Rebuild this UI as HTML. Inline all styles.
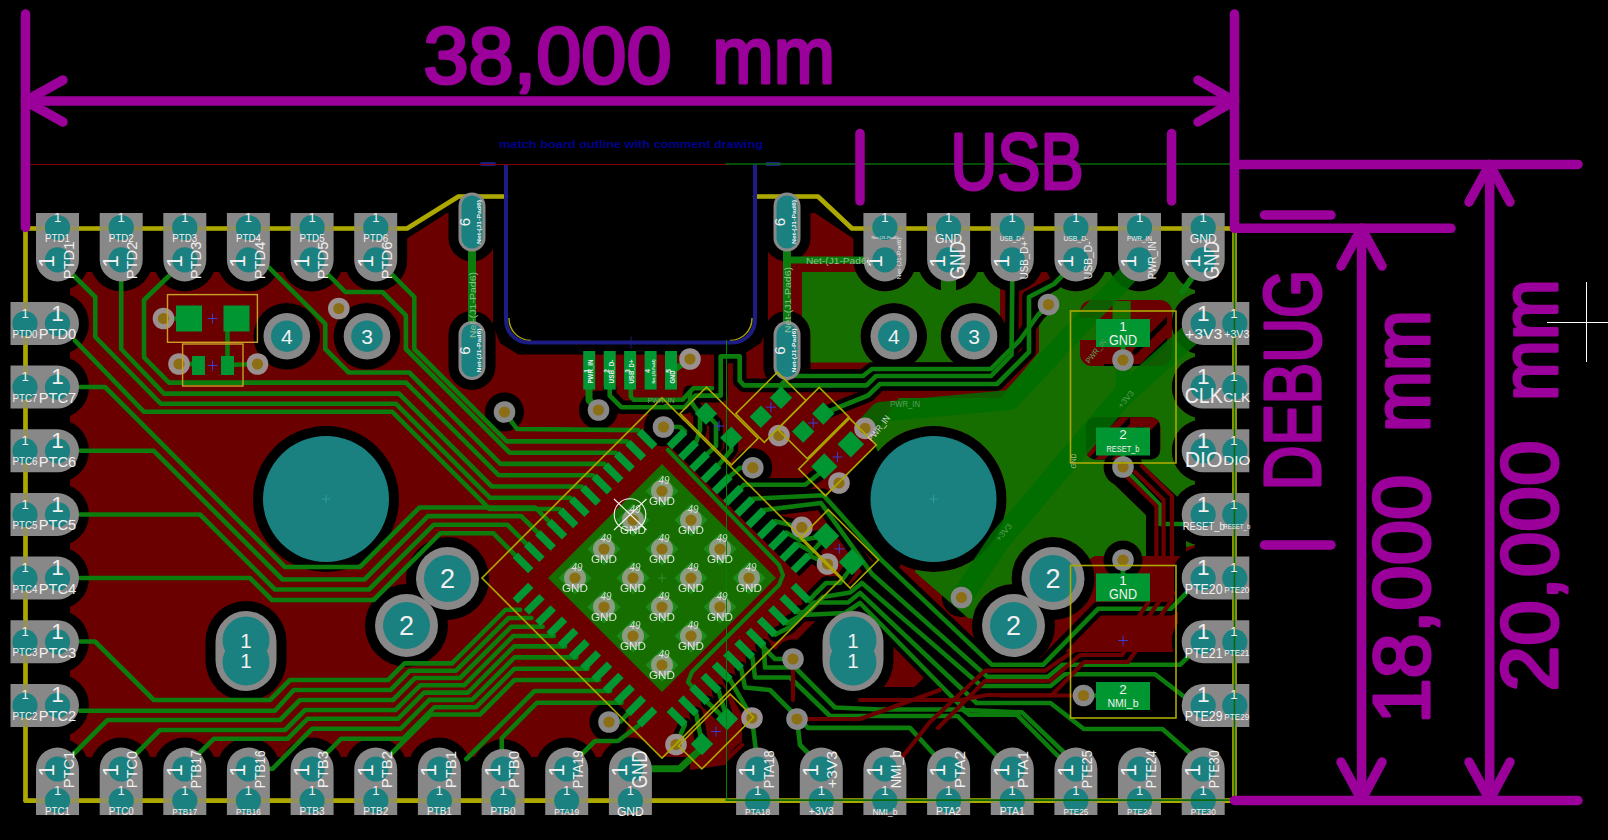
<!DOCTYPE html>
<html lang="en"><head><meta charset="utf-8"><title>PCB layout - pcbnew</title>
<style>
html,body{margin:0;padding:0;background:#000;overflow:hidden}
svg{display:block;font-family:"Liberation Sans",sans-serif}
</style></head><body>
<svg width="1608" height="840" viewBox="0 0 1608 840">
<rect width="1608" height="840" fill="#000"/>
<defs>
<mask id="mr" maskUnits="userSpaceOnUse" x="0" y="0" width="1608" height="840">
<polygon points="70,272 400,272 400,243 447,213 493,213 493,325 500,343 518,354.5 743,354.5 761,343 768,325 768,213 815,213 860,243 860,272 1195,272 1195,560 1178,565 1178,810 690,810 690,757 70,757" fill="#fff" />
<polygon points="846,590 742,696 742,745 725,765 690,770 690,810 1240,810 1240,655 1178,652 1060,652 1043,664.8 992,664.8 881.4,560 870,562" fill="#000" />
<polygon points="826,497 878,442 933,499 899,568" fill="#000" />
<polygon points="884,616 898,619 940,662 914.5,687 884,687" fill="#fff" />
<path d="M26 203 L89 203 L89 259.9 A31.5 31.5 0 0 1 26 259.9 Z" fill="#000"/>
<path d="M89.7 203 L152.7 203 L152.7 259.9 A31.5 31.5 0 0 1 89.7 259.9 Z" fill="#000"/>
<path d="M153.3 203 L216.3 203 L216.3 259.9 A31.5 31.5 0 0 1 153.3 259.9 Z" fill="#000"/>
<path d="M216.9 203 L279.9 203 L279.9 259.9 A31.5 31.5 0 0 1 216.9 259.9 Z" fill="#000"/>
<path d="M280.6 203 L343.6 203 L343.6 259.9 A31.5 31.5 0 0 1 280.6 259.9 Z" fill="#000"/>
<path d="M344.2 203 L407.2 203 L407.2 259.9 A31.5 31.5 0 0 1 344.2 259.9 Z" fill="#000"/>
<path d="M853.4 203 L916.4 203 L916.4 259.9 A31.5 31.5 0 0 1 853.4 259.9 Z" fill="#000"/>
<path d="M917.1 203 L980.1 203 L980.1 259.9 A31.5 31.5 0 0 1 917.1 259.9 Z" fill="#000"/>
<path d="M980.8 203 L1043.8 203 L1043.8 259.9 A31.5 31.5 0 0 1 980.8 259.9 Z" fill="#000"/>
<path d="M1044.4 203 L1107.4 203 L1107.4 259.9 A31.5 31.5 0 0 1 1044.4 259.9 Z" fill="#000"/>
<path d="M1108 203 L1171 203 L1171 259.9 A31.5 31.5 0 0 1 1108 259.9 Z" fill="#000"/>
<path d="M1171.7 203 L1234.7 203 L1234.7 259.9 A31.5 31.5 0 0 1 1171.7 259.9 Z" fill="#000"/>
<path d="M89 825.1 L26 825.1 L26 769 A31.5 31.5 0 0 1 89 769 Z" fill="#000"/>
<path d="M152.7 825.1 L89.7 825.1 L89.7 769 A31.5 31.5 0 0 1 152.7 769 Z" fill="#000"/>
<path d="M216.3 825.1 L153.3 825.1 L153.3 769 A31.5 31.5 0 0 1 216.3 769 Z" fill="#000"/>
<path d="M279.9 825.1 L216.9 825.1 L216.9 769 A31.5 31.5 0 0 1 279.9 769 Z" fill="#000"/>
<path d="M343.6 825.1 L280.6 825.1 L280.6 769 A31.5 31.5 0 0 1 343.6 769 Z" fill="#000"/>
<path d="M407.2 825.1 L344.2 825.1 L344.2 769 A31.5 31.5 0 0 1 407.2 769 Z" fill="#000"/>
<path d="M470.9 825.1 L407.9 825.1 L407.9 769 A31.5 31.5 0 0 1 470.9 769 Z" fill="#000"/>
<path d="M534.5 825.1 L471.6 825.1 L471.6 769 A31.5 31.5 0 0 1 534.5 769 Z" fill="#000"/>
<path d="M598.2 825.1 L535.2 825.1 L535.2 769 A31.5 31.5 0 0 1 598.2 769 Z" fill="#000"/>
<path d="M661.9 825.1 L598.9 825.1 L598.9 769 A31.5 31.5 0 0 1 661.9 769 Z" fill="#000"/>
<path d="M789.1 825.1 L726.1 825.1 L726.1 769 A31.5 31.5 0 0 1 789.1 769 Z" fill="#000"/>
<path d="M852.8 825.1 L789.8 825.1 L789.8 769 A31.5 31.5 0 0 1 852.8 769 Z" fill="#000"/>
<path d="M916.4 825.1 L853.4 825.1 L853.4 769 A31.5 31.5 0 0 1 916.4 769 Z" fill="#000"/>
<path d="M980.1 825.1 L917.1 825.1 L917.1 769 A31.5 31.5 0 0 1 980.1 769 Z" fill="#000"/>
<path d="M1043.8 825.1 L980.8 825.1 L980.8 769 A31.5 31.5 0 0 1 1043.8 769 Z" fill="#000"/>
<path d="M1107.4 825.1 L1044.4 825.1 L1044.4 769 A31.5 31.5 0 0 1 1107.4 769 Z" fill="#000"/>
<path d="M1171 825.1 L1108 825.1 L1108 769 A31.5 31.5 0 0 1 1171 769 Z" fill="#000"/>
<path d="M1234.7 825.1 L1171.7 825.1 L1171.7 769 A31.5 31.5 0 0 1 1234.7 769 Z" fill="#000"/>
<path d="M0.5 355 L0.5 292 L57.5 292 A31.5 31.5 0 0 1 57.5 355 Z" fill="#000"/>
<path d="M0.5 418.6 L0.5 355.6 L57.5 355.6 A31.5 31.5 0 0 1 57.5 418.6 Z" fill="#000"/>
<path d="M0.5 482.3 L0.5 419.3 L57.5 419.3 A31.5 31.5 0 0 1 57.5 482.3 Z" fill="#000"/>
<path d="M0.5 546 L0.5 483 L57.5 483 A31.5 31.5 0 0 1 57.5 546 Z" fill="#000"/>
<path d="M0.5 609.6 L0.5 546.6 L57.5 546.6 A31.5 31.5 0 0 1 57.5 609.6 Z" fill="#000"/>
<path d="M0.5 673.2 L0.5 610.2 L57.5 610.2 A31.5 31.5 0 0 1 57.5 673.2 Z" fill="#000"/>
<path d="M0.5 736.9 L0.5 673.9 L57.5 673.9 A31.5 31.5 0 0 1 57.5 736.9 Z" fill="#000"/>
<path d="M1259.3 292 L1259.3 355 L1203.2 355 A31.5 31.5 0 0 1 1203.2 292 Z" fill="#000"/>
<path d="M1259.3 355.6 L1259.3 418.6 L1203.2 418.6 A31.5 31.5 0 0 1 1203.2 355.6 Z" fill="#000"/>
<path d="M1259.3 419.3 L1259.3 482.3 L1203.2 482.3 A31.5 31.5 0 0 1 1203.2 419.3 Z" fill="#000"/>
<path d="M1259.3 483 L1259.3 546 L1203.2 546 A31.5 31.5 0 0 1 1203.2 483 Z" fill="#000"/>
<path d="M1259.3 546.6 L1259.3 609.6 L1203.2 609.6 A31.5 31.5 0 0 1 1203.2 546.6 Z" fill="#000"/>
<path d="M1259.3 610.2 L1259.3 673.2 L1203.2 673.2 A31.5 31.5 0 0 1 1203.2 610.2 Z" fill="#000"/>
<path d="M1259.3 673.9 L1259.3 736.9 L1203.2 736.9 A31.5 31.5 0 0 1 1203.2 673.9 Z" fill="#000"/>
<circle cx="286.8" cy="336.2" r="33.3" fill="#000" />
<circle cx="367" cy="336.2" r="33.3" fill="#000" />
<circle cx="447.5" cy="578.5" r="41.5" fill="#000" />
<circle cx="406.5" cy="625.5" r="41.5" fill="#000" />
<circle cx="893.8" cy="336.2" r="33.3" fill="#000" />
<circle cx="974" cy="336.2" r="33.3" fill="#000" />
<circle cx="1053" cy="578.5" r="41.5" fill="#000" />
<circle cx="1013.5" cy="625.5" r="41.5" fill="#000" />
<circle cx="326" cy="499" r="73" fill="#000" />
<circle cx="933.5" cy="499" r="73" fill="#000" />
<rect x="205.5" y="601" width="81" height="100" rx="40.5" fill="#000" />
<rect x="812.5" y="601" width="81" height="100" rx="40.5" fill="#000" />
<rect x="448.5" y="182.5" width="47" height="79" rx="23.5" fill="#000" />
<rect x="448.5" y="311" width="47" height="79" rx="23.5" fill="#000" />
<rect x="763.5" y="182.5" width="47" height="79" rx="23.5" fill="#000" />
<rect x="763.5" y="311" width="47" height="79" rx="23.5" fill="#000" />
<circle cx="504.5" cy="412" r="19.5" fill="#000" />
<circle cx="598.5" cy="410" r="19.5" fill="#000" />
<circle cx="663.5" cy="427" r="19.5" fill="#000" />
<circle cx="1048.5" cy="304.5" r="19.5" fill="#000" />
<circle cx="1123" cy="360" r="19.5" fill="#000" />
<circle cx="1123" cy="467" r="19.5" fill="#000" />
<circle cx="1123" cy="560" r="19.5" fill="#000" />
<circle cx="961.5" cy="597.5" r="19.5" fill="#000" />
<circle cx="1083.5" cy="695.5" r="19.5" fill="#000" />
<circle cx="609" cy="722" r="19.5" fill="#000" />
<circle cx="793" cy="659" r="19.5" fill="#000" />
<circle cx="797" cy="719" r="19.5" fill="#000" />
<circle cx="752.8" cy="467.7" r="19.5" fill="#000" />
</mask>
<mask id="mg" maskUnits="userSpaceOnUse" x="0" y="0" width="1608" height="840">
<polygon points="802,272 1000,272 1000,352 990,362.5 802,362.5" fill="#fff" />
<polygon points="1054,272 1195,272 1195,545 1150,556 1095,556 1053,579 1013,626 968,618 915,572 933.5,520 880,470 878,452 872,438 899,398 1001,398 1039,352 1039,295 1054,280" fill="#fff" />
<path d="M26 203 L89 203 L89 259.9 A31.5 31.5 0 0 1 26 259.9 Z" fill="#000"/>
<path d="M89.7 203 L152.7 203 L152.7 259.9 A31.5 31.5 0 0 1 89.7 259.9 Z" fill="#000"/>
<path d="M153.3 203 L216.3 203 L216.3 259.9 A31.5 31.5 0 0 1 153.3 259.9 Z" fill="#000"/>
<path d="M216.9 203 L279.9 203 L279.9 259.9 A31.5 31.5 0 0 1 216.9 259.9 Z" fill="#000"/>
<path d="M280.6 203 L343.6 203 L343.6 259.9 A31.5 31.5 0 0 1 280.6 259.9 Z" fill="#000"/>
<path d="M344.2 203 L407.2 203 L407.2 259.9 A31.5 31.5 0 0 1 344.2 259.9 Z" fill="#000"/>
<path d="M853.4 203 L916.4 203 L916.4 259.9 A31.5 31.5 0 0 1 853.4 259.9 Z" fill="#000"/>
<path d="M917.1 203 L980.1 203 L980.1 259.9 A31.5 31.5 0 0 1 917.1 259.9 Z" fill="#000"/>
<path d="M980.8 203 L1043.8 203 L1043.8 259.9 A31.5 31.5 0 0 1 980.8 259.9 Z" fill="#000"/>
<path d="M1044.4 203 L1107.4 203 L1107.4 259.9 A31.5 31.5 0 0 1 1044.4 259.9 Z" fill="#000"/>
<path d="M1108 203 L1171 203 L1171 259.9 A31.5 31.5 0 0 1 1108 259.9 Z" fill="#000"/>
<path d="M1171.7 203 L1234.7 203 L1234.7 259.9 A31.5 31.5 0 0 1 1171.7 259.9 Z" fill="#000"/>
<path d="M89 825.1 L26 825.1 L26 769 A31.5 31.5 0 0 1 89 769 Z" fill="#000"/>
<path d="M152.7 825.1 L89.7 825.1 L89.7 769 A31.5 31.5 0 0 1 152.7 769 Z" fill="#000"/>
<path d="M216.3 825.1 L153.3 825.1 L153.3 769 A31.5 31.5 0 0 1 216.3 769 Z" fill="#000"/>
<path d="M279.9 825.1 L216.9 825.1 L216.9 769 A31.5 31.5 0 0 1 279.9 769 Z" fill="#000"/>
<path d="M343.6 825.1 L280.6 825.1 L280.6 769 A31.5 31.5 0 0 1 343.6 769 Z" fill="#000"/>
<path d="M407.2 825.1 L344.2 825.1 L344.2 769 A31.5 31.5 0 0 1 407.2 769 Z" fill="#000"/>
<path d="M470.9 825.1 L407.9 825.1 L407.9 769 A31.5 31.5 0 0 1 470.9 769 Z" fill="#000"/>
<path d="M534.5 825.1 L471.6 825.1 L471.6 769 A31.5 31.5 0 0 1 534.5 769 Z" fill="#000"/>
<path d="M598.2 825.1 L535.2 825.1 L535.2 769 A31.5 31.5 0 0 1 598.2 769 Z" fill="#000"/>
<path d="M661.9 825.1 L598.9 825.1 L598.9 769 A31.5 31.5 0 0 1 661.9 769 Z" fill="#000"/>
<path d="M789.1 825.1 L726.1 825.1 L726.1 769 A31.5 31.5 0 0 1 789.1 769 Z" fill="#000"/>
<path d="M852.8 825.1 L789.8 825.1 L789.8 769 A31.5 31.5 0 0 1 852.8 769 Z" fill="#000"/>
<path d="M916.4 825.1 L853.4 825.1 L853.4 769 A31.5 31.5 0 0 1 916.4 769 Z" fill="#000"/>
<path d="M980.1 825.1 L917.1 825.1 L917.1 769 A31.5 31.5 0 0 1 980.1 769 Z" fill="#000"/>
<path d="M1043.8 825.1 L980.8 825.1 L980.8 769 A31.5 31.5 0 0 1 1043.8 769 Z" fill="#000"/>
<path d="M1107.4 825.1 L1044.4 825.1 L1044.4 769 A31.5 31.5 0 0 1 1107.4 769 Z" fill="#000"/>
<path d="M1171 825.1 L1108 825.1 L1108 769 A31.5 31.5 0 0 1 1171 769 Z" fill="#000"/>
<path d="M1234.7 825.1 L1171.7 825.1 L1171.7 769 A31.5 31.5 0 0 1 1234.7 769 Z" fill="#000"/>
<path d="M0.5 355 L0.5 292 L57.5 292 A31.5 31.5 0 0 1 57.5 355 Z" fill="#000"/>
<path d="M0.5 418.6 L0.5 355.6 L57.5 355.6 A31.5 31.5 0 0 1 57.5 418.6 Z" fill="#000"/>
<path d="M0.5 482.3 L0.5 419.3 L57.5 419.3 A31.5 31.5 0 0 1 57.5 482.3 Z" fill="#000"/>
<path d="M0.5 546 L0.5 483 L57.5 483 A31.5 31.5 0 0 1 57.5 546 Z" fill="#000"/>
<path d="M0.5 609.6 L0.5 546.6 L57.5 546.6 A31.5 31.5 0 0 1 57.5 609.6 Z" fill="#000"/>
<path d="M0.5 673.2 L0.5 610.2 L57.5 610.2 A31.5 31.5 0 0 1 57.5 673.2 Z" fill="#000"/>
<path d="M0.5 736.9 L0.5 673.9 L57.5 673.9 A31.5 31.5 0 0 1 57.5 736.9 Z" fill="#000"/>
<path d="M1259.3 292 L1259.3 355 L1203.2 355 A31.5 31.5 0 0 1 1203.2 292 Z" fill="#000"/>
<path d="M1259.3 355.6 L1259.3 418.6 L1203.2 418.6 A31.5 31.5 0 0 1 1203.2 355.6 Z" fill="#000"/>
<path d="M1259.3 419.3 L1259.3 482.3 L1203.2 482.3 A31.5 31.5 0 0 1 1203.2 419.3 Z" fill="#000"/>
<path d="M1259.3 483 L1259.3 546 L1203.2 546 A31.5 31.5 0 0 1 1203.2 483 Z" fill="#000"/>
<path d="M1259.3 546.6 L1259.3 609.6 L1203.2 609.6 A31.5 31.5 0 0 1 1203.2 546.6 Z" fill="#000"/>
<path d="M1259.3 610.2 L1259.3 673.2 L1203.2 673.2 A31.5 31.5 0 0 1 1203.2 610.2 Z" fill="#000"/>
<path d="M1259.3 673.9 L1259.3 736.9 L1203.2 736.9 A31.5 31.5 0 0 1 1203.2 673.9 Z" fill="#000"/>
<circle cx="286.8" cy="336.2" r="33.3" fill="#000" />
<circle cx="367" cy="336.2" r="33.3" fill="#000" />
<circle cx="447.5" cy="578.5" r="41.5" fill="#000" />
<circle cx="406.5" cy="625.5" r="41.5" fill="#000" />
<circle cx="893.8" cy="336.2" r="33.3" fill="#000" />
<circle cx="974" cy="336.2" r="33.3" fill="#000" />
<circle cx="1053" cy="578.5" r="41.5" fill="#000" />
<circle cx="1013.5" cy="625.5" r="41.5" fill="#000" />
<circle cx="326" cy="499" r="73" fill="#000" />
<circle cx="933.5" cy="499" r="73" fill="#000" />
<rect x="205.5" y="601" width="81" height="100" rx="40.5" fill="#000" />
<rect x="812.5" y="601" width="81" height="100" rx="40.5" fill="#000" />
<rect x="448.5" y="182.5" width="47" height="79" rx="23.5" fill="#000" />
<rect x="448.5" y="311" width="47" height="79" rx="23.5" fill="#000" />
<rect x="763.5" y="182.5" width="47" height="79" rx="23.5" fill="#000" />
<rect x="763.5" y="311" width="47" height="79" rx="23.5" fill="#000" />
<circle cx="1123" cy="467" r="19.5" fill="#000" />
<circle cx="1123" cy="560" r="19.5" fill="#000" />
<rect x="941" y="270" width="15" height="30" rx="0" fill="#fff" />
<rect x="1080" y="300" width="92" height="66" rx="12" fill="#000" />
<rect x="1086" y="417" width="74.5" height="42" rx="10" fill="#000" />
<polygon points="1123,455 1140,462 1186,505 1186,556 1146,556 1146,515 1110,480" fill="#000" />
</mask>
</defs>
<rect x="0" y="0" width="1608" height="840" rx="0" fill="#6b0000" mask="url(#mr)"/>
<rect x="0" y="0" width="1608" height="840" rx="0" fill="#176e00" mask="url(#mg)"/>
<rect x="1080.4" y="303.3" width="86.6" height="60.7" rx="11" fill="#6b0000" />
<rect x="1112.5" y="301" width="18.2" height="20" rx="0" fill="#176e00" />
<rect x="1078" y="318" width="19" height="22" rx="0" fill="#176e00" />
<clipPath id="cw1"><rect x="1080.4" y="303.3" width="86.6" height="60.7" rx="11"/></clipPath>
<g clip-path="url(#cw1)">
<polyline points="1175,312 1135,352" fill="none" stroke="#000" stroke-width="5" stroke-linecap="round" stroke-linejoin="round" />
<polyline points="1178,330 1142,366" fill="none" stroke="#000" stroke-width="5" stroke-linecap="round" stroke-linejoin="round" />
</g>
<rect x="1086" y="417.6" width="74" height="41.8" rx="9" fill="#000" />
<polygon points="1123,455 1140,462 1186,505 1186,556 1146,556 1146,515 1110,480" fill="#000" />
<clipPath id="cw2"><rect x="1086" y="417.6" width="74" height="41.8" rx="9"/></clipPath>
<g clip-path="url(#cw2)">
<polyline points="1080,462 1130,412" fill="none" stroke="#6b0000" stroke-width="7" stroke-linecap="round" stroke-linejoin="round" />
<polyline points="1097,462 1147,412" fill="none" stroke="#6b0000" stroke-width="7" stroke-linecap="round" stroke-linejoin="round" />
<polyline points="1114,462 1164,412" fill="none" stroke="#6b0000" stroke-width="7" stroke-linecap="round" stroke-linejoin="round" />
<rect x="1130" y="417" width="24" height="10" rx="0" fill="#6b0000" />
</g>
<polygon points="799.5,576.2 663.8,440.5 684.6,419.6 820.4,555.4" fill="#000" />
<polygon points="548,578 662,464 776,578 662,692" fill="#176e00" />
<g id="tracks">
<polyline points="504.5,412 517,429 638,430.1" fill="none" stroke="#0c7c0c" stroke-width="4.6" stroke-linecap="round" stroke-linejoin="round" />
<polyline points="390.8,273.4 414.3,297 414.3,349 506.7,441.4 626.8,441.4" fill="none" stroke="#0c7c0c" stroke-width="4.6" stroke-linecap="round" stroke-linejoin="round" />
<polyline points="328.6,275 345.4,292 382.4,292 405.9,315.4 405.9,349 509.6,452.7 615.5,452.7" fill="none" stroke="#0c7c0c" stroke-width="4.6" stroke-linecap="round" stroke-linejoin="round" />
<polyline points="268,266.7 325.3,323.8 325.3,349 348.8,372.5 409.2,372.5 500.6,463.9 604.2,463.9" fill="none" stroke="#0c7c0c" stroke-width="4.6" stroke-linecap="round" stroke-linejoin="round" />
<polyline points="172.5,272.5 144,300 144,357.4 169,382.6 406,382.6 498.6,475.2 593,475.2" fill="none" stroke="#0c7c0c" stroke-width="4.6" stroke-linecap="round" stroke-linejoin="round" />
<polyline points="121.2,270 121.2,349 164,393.6 399,393.6 491.9,486.5 581.7,486.5" fill="none" stroke="#0c7c0c" stroke-width="4.6" stroke-linecap="round" stroke-linejoin="round" />
<polyline points="67,269 95.3,297 95.3,337 160.7,403.7 395.8,403.7 489.8,497.7 570.4,497.7" fill="none" stroke="#0c7c0c" stroke-width="4.6" stroke-linecap="round" stroke-linejoin="round" />
<polyline points="75,340.6 144,411.8 392.4,411.8 489.6,509 559.2,509" fill="none" stroke="#0c7c0c" stroke-width="4.6" stroke-linecap="round" stroke-linejoin="round" />
<polyline points="80,387 105,387 285,567 360,567 419.5,507.5 535.2,507.5 547.9,520.3" fill="none" stroke="#0c7c0c" stroke-width="4.6" stroke-linecap="round" stroke-linejoin="round" />
<polyline points="80,450.8 153.8,450.8 282.5,579.5 364.5,579.5 427.9,516.1 521.2,516.1 536.7,531.5" fill="none" stroke="#0c7c0c" stroke-width="4.6" stroke-linecap="round" stroke-linejoin="round" />
<polyline points="80,514.5 200,514.5 275,589.5 369,589.5 433.8,524.7 507.3,524.7 525.4,542.8" fill="none" stroke="#0c7c0c" stroke-width="4.6" stroke-linecap="round" stroke-linejoin="round" />
<polyline points="80,578 250,578 272,600 373.5,600 440.2,533.3 493.4,533.3 514.1,554.1" fill="none" stroke="#0c7c0c" stroke-width="4.6" stroke-linecap="round" stroke-linejoin="round" />
<polyline points="80,641.5 95,641.5 153.8,700 270,700 290,680 388,680 404.6,663.4 452,663.4 505.7,609.7 520.1,609.7" fill="none" stroke="#0c7c0c" stroke-width="4.6" stroke-linecap="round" stroke-linejoin="round" />
<polyline points="80,710.8 275,710.8 293.8,690 390.5,690 409.8,670.7 456,670.7 508.7,618 531.4,618" fill="none" stroke="#0c7c0c" stroke-width="4.6" stroke-linecap="round" stroke-linejoin="round" />
<polyline points="72.5,755 107.5,720 280,720 300,700 393,700 415,678 460,678 511.2,626.8 542.7,626.8" fill="none" stroke="#0c7c0c" stroke-width="4.6" stroke-linecap="round" stroke-linejoin="round" />
<polyline points="135,755 160,730 285,730 305,710 395.5,710 420.2,685.3 464,685.3 513.3,636 553.9,636" fill="none" stroke="#0c7c0c" stroke-width="4.6" stroke-linecap="round" stroke-linejoin="round" />
<polyline points="197.5,755 213.8,738.8 287.5,738.8 307.5,718.8 398,718.8 424.1,692.6 468,692.6 514.2,646.4 565.2,646.4" fill="none" stroke="#0c7c0c" stroke-width="4.6" stroke-linecap="round" stroke-linejoin="round" />
<polyline points="270,768.8 272.5,768.8 312,728.8 400.5,728.8 429.4,699.9 472,699.9 514.5,657.4 576.5,657.4" fill="none" stroke="#0c7c0c" stroke-width="4.6" stroke-linecap="round" stroke-linejoin="round" />
<polyline points="325,755 341,738.8 403,738.8 434.6,707.2 476,707.2 514.5,668.7 587.7,668.7" fill="none" stroke="#0c7c0c" stroke-width="4.6" stroke-linecap="round" stroke-linejoin="round" />
<polyline points="385,760 430.5,714.5 480,714.5 514.5,680 599,680" fill="none" stroke="#0c7c0c" stroke-width="4.6" stroke-linecap="round" stroke-linejoin="round" />
<polyline points="466.4,759 534.5,691 610.3,691" fill="none" stroke="#0c7c0c" stroke-width="4.6" stroke-linecap="round" stroke-linejoin="round" />
<polyline points="501.8,752 501.8,738 537,702.7 621.5,702.7" fill="none" stroke="#0c7c0c" stroke-width="4.6" stroke-linecap="round" stroke-linejoin="round" />
<polyline points="609,722 620,722 628.8,712.6" fill="none" stroke="#0c7c0c" stroke-width="4.6" stroke-linecap="round" stroke-linejoin="round" />
<polyline points="578,758 595,741 618,741 638.1,725.9" fill="none" stroke="#0c7c0c" stroke-width="4.6" stroke-linecap="round" stroke-linejoin="round" />
<polyline points="752.5,498.8 823.5,495.2 881.4,560 992,664.8 1043,664.8 1098,608.8 1170.7,608.8 1186,593.3" fill="none" stroke="#000" stroke-width="13.6" stroke-linecap="round" stroke-linejoin="round" />
<polyline points="763.7,510 821,503 872,574 987.4,676.7 1048,676.7 1062.4,664.8 1180,664.8 1189.8,655.2" fill="none" stroke="#000" stroke-width="13.6" stroke-linecap="round" stroke-linejoin="round" />
<polyline points="797.6,612.2 808,612 823,597 850,592.5 862,583 981.4,686 1050.5,686 1064.8,674.3 1155,674.3 1195,705" fill="none" stroke="#000" stroke-width="13.6" stroke-linecap="round" stroke-linejoin="round" />
<polyline points="786.3,623.4 800,616 814,602.5 848,602.5 860,593 976.7,703 1050.5,703 1083.8,729 1162.4,729 1198,760" fill="none" stroke="#000" stroke-width="13.6" stroke-linecap="round" stroke-linejoin="round" />
<polyline points="775,634.7 790,627 802,615 845,613 860,603 964.8,710 1022,712.4 1074,762" fill="none" stroke="#000" stroke-width="13.6" stroke-linecap="round" stroke-linejoin="round" />
<polyline points="763.8,645.9 765,667.5 795,667.5 835,707.5 880,709.5 962.4,709.5 969.5,714.8 1017,714.8 1064,762" fill="none" stroke="#000" stroke-width="13.6" stroke-linecap="round" stroke-linejoin="round" />
<polyline points="752.5,657.2 755,677.5 790,677.5 830,716 957.6,716 1003,762" fill="none" stroke="#000" stroke-width="13.6" stroke-linecap="round" stroke-linejoin="round" />
<polyline points="741.2,668.5 745,687.5 770,690 808,727.9 910,727.9 941,762" fill="none" stroke="#000" stroke-width="13.6" stroke-linecap="round" stroke-linejoin="round" />
<polyline points="797,719 800,745 815,760" fill="none" stroke="#000" stroke-width="13.6" stroke-linecap="round" stroke-linejoin="round" />
<polyline points="752,718 757,760" fill="none" stroke="#000" stroke-width="13.6" stroke-linecap="round" stroke-linejoin="round" />
<polyline points="808.8,600.9 815,594 826,583 840,583 848,572" fill="none" stroke="#000" stroke-width="13.6" stroke-linecap="round" stroke-linejoin="round" />
<polyline points="1012.5,262 1011.5,355 991,376 876,376 866.5,385.4 744,385.4 739.7,380.8 739.7,356.4 720.7,356.4 720.7,395.6 695.3,395.6 684.8,407.2 621.3,407.2 609.7,395.6 609.7,388" fill="none" stroke="#000" stroke-width="13.6" stroke-linecap="round" stroke-linejoin="round" />
<polyline points="1076,262 1054,284 1029,297 1029,352 997,384 880,384 868,395.5 823.3,413.5" fill="none" stroke="#000" stroke-width="13.6" stroke-linecap="round" stroke-linejoin="round" />
<polyline points="1048.5,304.5 1038,315 1020,340 991,369 872,369 863,376 790,376 781,385 781,397.7" fill="none" stroke="#000" stroke-width="13.6" stroke-linecap="round" stroke-linejoin="round" />
<polyline points="741.2,487.5 743.7,484.7 805.2,484.7 823.5,470.3" fill="none" stroke="#000" stroke-width="13.6" stroke-linecap="round" stroke-linejoin="round" />
<polyline points="775,521.3 801.8,527.4" fill="none" stroke="#000" stroke-width="13.6" stroke-linecap="round" stroke-linejoin="round" />
<polyline points="786.3,532.6 800,540 826,536" fill="none" stroke="#000" stroke-width="13.6" stroke-linecap="round" stroke-linejoin="round" />
<polyline points="797.5,543.8 812,552 826,536" fill="none" stroke="#000" stroke-width="13.6" stroke-linecap="round" stroke-linejoin="round" />
<polyline points="808.8,555.1 827.5,564" fill="none" stroke="#000" stroke-width="13.6" stroke-linecap="round" stroke-linejoin="round" />
<polyline points="729.9,476.2 740,467.7 752.8,467.7" fill="none" stroke="#000" stroke-width="13.6" stroke-linecap="round" stroke-linejoin="round" />
<polyline points="718.7,465 731.3,450 731.3,437.8" fill="none" stroke="#000" stroke-width="13.6" stroke-linecap="round" stroke-linejoin="round" />
<polyline points="707.4,453.7 716,446 716,424 706,413.5" fill="none" stroke="#000" stroke-width="13.6" stroke-linecap="round" stroke-linejoin="round" />
<polyline points="696.2,442.4 700,430 700,415 690,400 690,392" fill="none" stroke="#000" stroke-width="13.6" stroke-linecap="round" stroke-linejoin="round" />
<polyline points="684.9,431.2 680,427 663.5,427" fill="none" stroke="#000" stroke-width="13.6" stroke-linecap="round" stroke-linejoin="round" />
<polyline points="730,679.7 752,718" fill="none" stroke="#000" stroke-width="13.6" stroke-linecap="round" stroke-linejoin="round" />
<polyline points="718.7,691 727,719" fill="none" stroke="#000" stroke-width="13.6" stroke-linecap="round" stroke-linejoin="round" />
<polyline points="707.4,702.3 722,716" fill="none" stroke="#000" stroke-width="13.6" stroke-linecap="round" stroke-linejoin="round" />
<polyline points="696.2,713.5 702,744" fill="none" stroke="#000" stroke-width="13.6" stroke-linecap="round" stroke-linejoin="round" />
<polyline points="684.9,724.8 676,744.5" fill="none" stroke="#000" stroke-width="13.6" stroke-linecap="round" stroke-linejoin="round" />
<polyline points="793,659 775,659 762,646" fill="none" stroke="#000" stroke-width="13.6" stroke-linecap="round" stroke-linejoin="round" />
<polyline points="752.5,498.8 823.5,495.2 881.4,560 992,664.8 1043,664.8 1098,608.8 1170.7,608.8 1186,593.3" fill="none" stroke="#0c7c0c" stroke-width="4.6" stroke-linecap="round" stroke-linejoin="round" />
<polyline points="763.7,510 821,503 872,574 987.4,676.7 1048,676.7 1062.4,664.8 1180,664.8 1189.8,655.2" fill="none" stroke="#0c7c0c" stroke-width="4.6" stroke-linecap="round" stroke-linejoin="round" />
<polyline points="797.6,612.2 808,612 823,597 850,592.5 862,583 981.4,686 1050.5,686 1064.8,674.3 1155,674.3 1195,705" fill="none" stroke="#0c7c0c" stroke-width="4.6" stroke-linecap="round" stroke-linejoin="round" />
<polyline points="786.3,623.4 800,616 814,602.5 848,602.5 860,593 976.7,703 1050.5,703 1083.8,729 1162.4,729 1198,760" fill="none" stroke="#0c7c0c" stroke-width="4.6" stroke-linecap="round" stroke-linejoin="round" />
<polyline points="775,634.7 790,627 802,615 845,613 860,603 964.8,710 1022,712.4 1074,762" fill="none" stroke="#0c7c0c" stroke-width="4.6" stroke-linecap="round" stroke-linejoin="round" />
<polyline points="763.8,645.9 765,667.5 795,667.5 835,707.5 880,709.5 962.4,709.5 969.5,714.8 1017,714.8 1064,762" fill="none" stroke="#0c7c0c" stroke-width="4.6" stroke-linecap="round" stroke-linejoin="round" />
<polyline points="752.5,657.2 755,677.5 790,677.5 830,716 957.6,716 1003,762" fill="none" stroke="#0c7c0c" stroke-width="4.6" stroke-linecap="round" stroke-linejoin="round" />
<polyline points="741.2,668.5 745,687.5 770,690 808,727.9 910,727.9 941,762" fill="none" stroke="#0c7c0c" stroke-width="4.6" stroke-linecap="round" stroke-linejoin="round" />
<polyline points="797,719 800,745 815,760" fill="none" stroke="#0c7c0c" stroke-width="4.6" stroke-linecap="round" stroke-linejoin="round" />
<polyline points="752,718 757,760" fill="none" stroke="#0c7c0c" stroke-width="4.6" stroke-linecap="round" stroke-linejoin="round" />
<polyline points="808.8,600.9 815,594 826,583 840,583 848,572" fill="none" stroke="#0c7c0c" stroke-width="4.6" stroke-linecap="round" stroke-linejoin="round" />
<polyline points="668,450 779,565 783,575 779,585 692,672 688,682 697,692" fill="none" stroke="#0c7c0c" stroke-width="4.2" stroke-linecap="round" stroke-linejoin="round" />
<polyline points="1012.5,262 1011.5,355 991,376 876,376 866.5,385.4 744,385.4 739.7,380.8 739.7,356.4 720.7,356.4 720.7,395.6 695.3,395.6 684.8,407.2 621.3,407.2 609.7,395.6 609.7,388" fill="none" stroke="#0c7c0c" stroke-width="4.6" stroke-linecap="round" stroke-linejoin="round" />
<polyline points="1076,262 1054,284 1029,297 1029,352 997,384 880,384 868,395.5 823.3,413.5" fill="none" stroke="#0c7c0c" stroke-width="4.6" stroke-linecap="round" stroke-linejoin="round" />
<polyline points="1048.5,304.5 1038,315 1020,340 991,369 872,369 863,376 790,376 781,385 781,397.7" fill="none" stroke="#0c7c0c" stroke-width="4.6" stroke-linecap="round" stroke-linejoin="round" />
<polyline points="630.8,388 630.8,396.6 634,399.8 682.6,399.8 693.2,388.2 712,388.2" fill="none" stroke="#0c7c0c" stroke-width="4.6" stroke-linecap="round" stroke-linejoin="round" />
<polyline points="741.2,487.5 743.7,484.7 805.2,484.7 823.5,470.3" fill="none" stroke="#0c7c0c" stroke-width="4.6" stroke-linecap="round" stroke-linejoin="round" />
<polyline points="775,521.3 801.8,527.4" fill="none" stroke="#0c7c0c" stroke-width="4.6" stroke-linecap="round" stroke-linejoin="round" />
<polyline points="786.3,532.6 800,540 826,536" fill="none" stroke="#0c7c0c" stroke-width="4.6" stroke-linecap="round" stroke-linejoin="round" />
<polyline points="797.5,543.8 812,552 826,536" fill="none" stroke="#0c7c0c" stroke-width="4.6" stroke-linecap="round" stroke-linejoin="round" />
<polyline points="808.8,555.1 827.5,564" fill="none" stroke="#0c7c0c" stroke-width="4.6" stroke-linecap="round" stroke-linejoin="round" />
<polyline points="729.9,476.2 740,467.7 752.8,467.7" fill="none" stroke="#0c7c0c" stroke-width="4.6" stroke-linecap="round" stroke-linejoin="round" />
<polyline points="718.7,465 731.3,450 731.3,437.8" fill="none" stroke="#0c7c0c" stroke-width="4.6" stroke-linecap="round" stroke-linejoin="round" />
<polyline points="707.4,453.7 716,446 716,424 706,413.5" fill="none" stroke="#0c7c0c" stroke-width="4.6" stroke-linecap="round" stroke-linejoin="round" />
<polyline points="696.2,442.4 700,430 700,415 690,400 690,392" fill="none" stroke="#0c7c0c" stroke-width="4.6" stroke-linecap="round" stroke-linejoin="round" />
<polyline points="684.9,431.2 680,427 663.5,427" fill="none" stroke="#0c7c0c" stroke-width="4.6" stroke-linecap="round" stroke-linejoin="round" />
<polyline points="730,679.7 752,718" fill="none" stroke="#0c7c0c" stroke-width="4.6" stroke-linecap="round" stroke-linejoin="round" />
<polyline points="718.7,691 727,719" fill="none" stroke="#0c7c0c" stroke-width="4.6" stroke-linecap="round" stroke-linejoin="round" />
<polyline points="707.4,702.3 722,716" fill="none" stroke="#0c7c0c" stroke-width="4.6" stroke-linecap="round" stroke-linejoin="round" />
<polyline points="696.2,713.5 702,744" fill="none" stroke="#0c7c0c" stroke-width="4.6" stroke-linecap="round" stroke-linejoin="round" />
<polyline points="640,768.8 679.5,768.8 702,748" fill="none" stroke="#0c7c0c" stroke-width="7" stroke-linecap="round" stroke-linejoin="round" />
<polyline points="684.9,724.8 676,744.5" fill="none" stroke="#0c7c0c" stroke-width="4.6" stroke-linecap="round" stroke-linejoin="round" />
<polyline points="793,659 775,659 762,646" fill="none" stroke="#0c7c0c" stroke-width="4.6" stroke-linecap="round" stroke-linejoin="round" />
<polyline points="589,388 589,400 598.5,410" fill="none" stroke="#0c7c0c" stroke-width="7" stroke-linecap="round" stroke-linejoin="round" />
<polyline points="671,372 690,359" fill="none" stroke="#0c7c0c" stroke-width="6" stroke-linecap="round" stroke-linejoin="round" />
<polyline points="163.5,318.5 189,318.5" fill="none" stroke="#0c7c0c" stroke-width="4.6" stroke-linecap="round" stroke-linejoin="round" />
<polyline points="236.5,318.5 227.5,330 227.5,365 257.5,364" fill="none" stroke="#0c7c0c" stroke-width="4.6" stroke-linecap="round" stroke-linejoin="round" />
<polyline points="179,364 198.5,364" fill="none" stroke="#0c7c0c" stroke-width="4.6" stroke-linecap="round" stroke-linejoin="round" />
<polyline points="472,250 472,322" fill="none" stroke="#0c7c0c" stroke-width="8" stroke-linecap="round" stroke-linejoin="round" />
<polyline points="787,250 787,322" fill="none" stroke="#0c7c0c" stroke-width="8" stroke-linecap="round" stroke-linejoin="round" />
<polyline points="787,250 787,260 885,260" fill="none" stroke="#0c7c0c" stroke-width="7" stroke-linecap="round" stroke-linejoin="round" />
<polyline points="1123,360 1123,345" fill="none" stroke="#0c7c0c" stroke-width="4.6" stroke-linecap="round" stroke-linejoin="round" />
<polyline points="1203,262 1182,292" fill="none" stroke="#0c7c0c" stroke-width="6" stroke-linecap="round" stroke-linejoin="round" />
<polyline points="1123,467 1123,450" fill="none" stroke="#0c7c0c" stroke-width="4.6" stroke-linecap="round" stroke-linejoin="round" />
<polyline points="1123,467 1160,505 1160,524 1190,524" fill="none" stroke="#0c7c0c" stroke-width="4.6" stroke-linecap="round" stroke-linejoin="round" />
<polyline points="1123,560 1123,575" fill="none" stroke="#0c7c0c" stroke-width="4.6" stroke-linecap="round" stroke-linejoin="round" />
<polyline points="1083.5,695.5 1100,695.5" fill="none" stroke="#0c7c0c" stroke-width="4.6" stroke-linecap="round" stroke-linejoin="round" />
</g>
<g opacity="0.85">
<polyline points="1139.8,262 1010,400 880,412 865,428.4" fill="none" stroke="#006e00" stroke-width="20" stroke-linecap="round" stroke-linejoin="round" />
<polyline points="1203,323.5 1123,395 1000,540 961.5,597.5" fill="none" stroke="#006e00" stroke-width="22" stroke-linecap="round" stroke-linejoin="round" />
<polyline points="1123,395 1123,360" fill="none" stroke="#006e00" stroke-width="14" stroke-linecap="round" stroke-linejoin="round" />
</g>
<g id="rtracks">
<polyline points="1128,478 1156.4,506 1156.4,590 1118,648 1078,648 1045,670.7 985,670.7 930,722 900,760" fill="none" stroke="#6b0000" stroke-width="4.2" stroke-linecap="round" stroke-linejoin="round" />
<polyline points="1135,472 1163.6,500 1163.6,595 1122,655 1080,655 1050,681 985,681 938,728" fill="none" stroke="#6b0000" stroke-width="4.2" stroke-linecap="round" stroke-linejoin="round" />
<polyline points="1142,466 1171.9,496 1171.9,600 1128,662 1084,662 1052,695 987,695 960,700 860,700" fill="none" stroke="#6b0000" stroke-width="4.2" stroke-linecap="round" stroke-linejoin="round" />
<polyline points="1083.5,695.5 1000,695.5" fill="none" stroke="#6b0000" stroke-width="4.2" stroke-linecap="round" stroke-linejoin="round" />
<polyline points="797,719 860,719 940,690" fill="none" stroke="#6b0000" stroke-width="4.2" stroke-linecap="round" stroke-linejoin="round" />
<polyline points="793,659 793,700" fill="none" stroke="#6b0000" stroke-width="4.2" stroke-linecap="round" stroke-linejoin="round" />
<polyline points="700,762 724,762 742,745" fill="none" stroke="#6b0000" stroke-width="4.2" stroke-linecap="round" stroke-linejoin="round" />
</g>
<g id="smd">
<rect x="635.9" y="435.2" width="22" height="7.6" fill="#009632" transform="rotate(45 646.9 439)"/>
<rect x="624.6" y="446.4" width="22" height="7.6" fill="#009632" transform="rotate(45 635.6 450.2)"/>
<rect x="613.3" y="457.7" width="22" height="7.6" fill="#009632" transform="rotate(45 624.3 461.5)"/>
<rect x="602.1" y="469" width="22" height="7.6" fill="#009632" transform="rotate(45 613.1 472.8)"/>
<rect x="590.8" y="480.2" width="22" height="7.6" fill="#009632" transform="rotate(45 601.8 484)"/>
<rect x="579.5" y="491.5" width="22" height="7.6" fill="#009632" transform="rotate(45 590.5 495.3)"/>
<rect x="568.3" y="502.8" width="22" height="7.6" fill="#009632" transform="rotate(45 579.3 506.6)"/>
<rect x="557" y="514" width="22" height="7.6" fill="#009632" transform="rotate(45 568 517.8)"/>
<rect x="545.8" y="525.3" width="22" height="7.6" fill="#009632" transform="rotate(45 556.8 529.1)"/>
<rect x="534.5" y="536.6" width="22" height="7.6" fill="#009632" transform="rotate(45 545.5 540.4)"/>
<rect x="523.2" y="547.8" width="22" height="7.6" fill="#009632" transform="rotate(45 534.2 551.6)"/>
<rect x="512" y="559.1" width="22" height="7.6" fill="#009632" transform="rotate(45 523 562.9)"/>
<rect x="512" y="589.3" width="22" height="7.6" fill="#009632" transform="rotate(-45 523 593.1)"/>
<rect x="523.2" y="600.6" width="22" height="7.6" fill="#009632" transform="rotate(-45 534.2 604.4)"/>
<rect x="534.5" y="611.9" width="22" height="7.6" fill="#009632" transform="rotate(-45 545.5 615.7)"/>
<rect x="545.8" y="623.1" width="22" height="7.6" fill="#009632" transform="rotate(-45 556.8 626.9)"/>
<rect x="557" y="634.4" width="22" height="7.6" fill="#009632" transform="rotate(-45 568 638.2)"/>
<rect x="568.3" y="645.7" width="22" height="7.6" fill="#009632" transform="rotate(-45 579.3 649.5)"/>
<rect x="579.6" y="656.9" width="22" height="7.6" fill="#009632" transform="rotate(-45 590.6 660.7)"/>
<rect x="590.8" y="668.2" width="22" height="7.6" fill="#009632" transform="rotate(-45 601.8 672)"/>
<rect x="602.1" y="679.4" width="22" height="7.6" fill="#009632" transform="rotate(-45 613.1 683.2)"/>
<rect x="613.4" y="690.7" width="22" height="7.6" fill="#009632" transform="rotate(-45 624.4 694.5)"/>
<rect x="624.6" y="702" width="22" height="7.6" fill="#009632" transform="rotate(-45 635.6 705.8)"/>
<rect x="635.9" y="713.2" width="22" height="7.6" fill="#009632" transform="rotate(-45 646.9 717)"/>
<rect x="666.1" y="713.2" width="22" height="7.6" fill="#009632" transform="rotate(45 677.1 717)"/>
<rect x="677.4" y="702" width="22" height="7.6" fill="#009632" transform="rotate(45 688.4 705.8)"/>
<rect x="688.7" y="690.7" width="22" height="7.6" fill="#009632" transform="rotate(45 699.7 694.5)"/>
<rect x="699.9" y="679.4" width="22" height="7.6" fill="#009632" transform="rotate(45 710.9 683.2)"/>
<rect x="711.2" y="668.2" width="22" height="7.6" fill="#009632" transform="rotate(45 722.2 672)"/>
<rect x="722.5" y="656.9" width="22" height="7.6" fill="#009632" transform="rotate(45 733.5 660.7)"/>
<rect x="733.7" y="645.6" width="22" height="7.6" fill="#009632" transform="rotate(45 744.7 649.4)"/>
<rect x="745" y="634.4" width="22" height="7.6" fill="#009632" transform="rotate(45 756 638.2)"/>
<rect x="756.2" y="623.1" width="22" height="7.6" fill="#009632" transform="rotate(45 767.2 626.9)"/>
<rect x="767.5" y="611.8" width="22" height="7.6" fill="#009632" transform="rotate(45 778.5 615.6)"/>
<rect x="778.8" y="600.6" width="22" height="7.6" fill="#009632" transform="rotate(45 789.8 604.4)"/>
<rect x="790" y="589.3" width="22" height="7.6" fill="#009632" transform="rotate(45 801 593.1)"/>
<rect x="790" y="559.1" width="22" height="7.6" fill="#009632" transform="rotate(-45 801 562.9)"/>
<rect x="778.8" y="547.8" width="22" height="7.6" fill="#009632" transform="rotate(-45 789.8 551.6)"/>
<rect x="767.5" y="536.5" width="22" height="7.6" fill="#009632" transform="rotate(-45 778.5 540.3)"/>
<rect x="756.2" y="525.3" width="22" height="7.6" fill="#009632" transform="rotate(-45 767.2 529.1)"/>
<rect x="745" y="514" width="22" height="7.6" fill="#009632" transform="rotate(-45 756 517.8)"/>
<rect x="733.7" y="502.7" width="22" height="7.6" fill="#009632" transform="rotate(-45 744.7 506.5)"/>
<rect x="722.4" y="491.5" width="22" height="7.6" fill="#009632" transform="rotate(-45 733.4 495.3)"/>
<rect x="711.2" y="480.2" width="22" height="7.6" fill="#009632" transform="rotate(-45 722.2 484)"/>
<rect x="699.9" y="469" width="22" height="7.6" fill="#009632" transform="rotate(-45 710.9 472.8)"/>
<rect x="688.6" y="457.7" width="22" height="7.6" fill="#009632" transform="rotate(-45 699.6 461.5)"/>
<rect x="677.4" y="446.4" width="22" height="7.6" fill="#009632" transform="rotate(-45 688.4 450.2)"/>
<rect x="666.1" y="435.2" width="22" height="7.6" fill="#009632" transform="rotate(-45 677.1 439)"/>
<rect x="583.2" y="351" width="12" height="38.6" rx="0" fill="#009632" />
<rect x="603.7" y="351" width="12" height="38.6" rx="0" fill="#009632" />
<rect x="624.1" y="351" width="12" height="38.6" rx="0" fill="#009632" />
<rect x="644.6" y="351" width="12" height="38.6" rx="0" fill="#009632" />
<rect x="665" y="351" width="12" height="38.6" rx="0" fill="#009632" />
<rect x="176" y="305.5" width="26" height="26" rx="0" fill="#009632" />
<rect x="223.5" y="305.5" width="26" height="26" rx="0" fill="#009632" />
<rect x="192" y="356" width="13" height="19" rx="0" fill="#009632" />
<rect x="221" y="356" width="13" height="19" rx="0" fill="#009632" />
<rect x="1096" y="319" width="54" height="28" rx="0" fill="#009632" />
<rect x="1096" y="427.5" width="54" height="28" rx="0" fill="#009632" />
<rect x="1096" y="573.4" width="54" height="28" rx="0" fill="#009632" />
<rect x="1096" y="682" width="54" height="28" rx="0" fill="#009632" />
<polygon points="769.8,397.7 781,386.5 792.2,397.7 781,408.9" fill="#009632" />
<polygon points="749.7,416.7 760.9,405.5 772.1,416.7 760.9,427.9" fill="#009632" />
<polygon points="812.1,413.5 823.3,402.3 834.5,413.5 823.3,424.7" fill="#009632" />
<polygon points="792,431.5 803.2,420.3 814.4,431.5 803.2,442.7" fill="#009632" />
<polygon points="837.6,444.2 850.8,431 864,444.2 850.8,457.4" fill="#009632" />
<polygon points="811.1,466.4 824.3,453.2 837.5,466.4 824.3,479.6" fill="#009632" />
<polygon points="812.8,536 826,522.8 839.2,536 826,549.2" fill="#009632" />
<polygon points="838.8,562 852,548.8 865.2,562 852,575.2" fill="#009632" />
<polygon points="694.8,413.5 706,402.3 717.2,413.5 706,424.7" fill="#009632" />
<polygon points="720.1,437.8 731.3,426.6 742.5,437.8 731.3,449" fill="#009632" />
<polygon points="690.8,744 702,732.8 713.2,744 702,755.2" fill="#009632" />
<polygon points="715.8,719 727,707.8 738.2,719 727,730.2" fill="#009632" />
</g>
<g id="vias">
<circle cx="338.8" cy="308.5" r="10.8" fill="#9a9090" />
<circle cx="338.8" cy="308.5" r="5.6" fill="#8c6e14" />
<circle cx="163.5" cy="318.5" r="10.8" fill="#9a9090" />
<circle cx="163.5" cy="318.5" r="5.6" fill="#8c6e14" />
<circle cx="179" cy="364" r="10.8" fill="#9a9090" />
<circle cx="179" cy="364" r="5.6" fill="#8c6e14" />
<circle cx="257.5" cy="364" r="10.8" fill="#9a9090" />
<circle cx="257.5" cy="364" r="5.6" fill="#8c6e14" />
<circle cx="504.5" cy="412" r="10.8" fill="#888888" />
<circle cx="504.5" cy="412" r="5.6" fill="#8c6e14" />
<circle cx="598.5" cy="410" r="10.8" fill="#888888" />
<circle cx="598.5" cy="410" r="5.6" fill="#8c6e14" />
<circle cx="663.5" cy="427" r="10.8" fill="#888888" />
<circle cx="663.5" cy="427" r="5.6" fill="#8c6e14" />
<circle cx="690" cy="359" r="10.8" fill="#9a9090" />
<circle cx="690" cy="359" r="5.6" fill="#8c6e14" />
<circle cx="1048.5" cy="304.5" r="10.8" fill="#888888" />
<circle cx="1048.5" cy="304.5" r="5.6" fill="#8c6e14" />
<circle cx="1123" cy="360" r="10.8" fill="#888888" />
<circle cx="1123" cy="360" r="5.6" fill="#8c6e14" />
<circle cx="1123" cy="467" r="10.8" fill="#888888" />
<circle cx="1123" cy="467" r="5.6" fill="#8c6e14" />
<circle cx="1123" cy="560" r="10.8" fill="#888888" />
<circle cx="1123" cy="560" r="5.6" fill="#8c6e14" />
<circle cx="961.5" cy="597.5" r="10.8" fill="#888888" />
<circle cx="961.5" cy="597.5" r="5.6" fill="#8c6e14" />
<circle cx="1083.5" cy="695.5" r="10.8" fill="#888888" />
<circle cx="1083.5" cy="695.5" r="5.6" fill="#8c6e14" />
<circle cx="609" cy="722" r="10.8" fill="#888888" />
<circle cx="609" cy="722" r="5.6" fill="#8c6e14" />
<circle cx="676" cy="744.5" r="10.8" fill="#9a9090" />
<circle cx="676" cy="744.5" r="5.6" fill="#8c6e14" />
<circle cx="752" cy="718" r="10.8" fill="#9a9090" />
<circle cx="752" cy="718" r="5.6" fill="#8c6e14" />
<circle cx="793" cy="659" r="10.8" fill="#888888" />
<circle cx="793" cy="659" r="5.6" fill="#8c6e14" />
<circle cx="797" cy="719" r="10.8" fill="#888888" />
<circle cx="797" cy="719" r="5.6" fill="#8c6e14" />
<circle cx="779" cy="435.5" r="10.8" fill="#9a9090" />
<circle cx="779" cy="435.5" r="5.6" fill="#8c6e14" />
<circle cx="752.8" cy="467.7" r="10.8" fill="#888888" />
<circle cx="752.8" cy="467.7" r="5.6" fill="#8c6e14" />
<circle cx="865" cy="428.4" r="10.8" fill="#9a9090" />
<circle cx="865" cy="428.4" r="5.6" fill="#8c6e14" />
<circle cx="839" cy="483" r="10.8" fill="#9a9090" />
<circle cx="839" cy="483" r="5.6" fill="#8c6e14" />
<circle cx="801.8" cy="527.4" r="10.8" fill="#9a9090" />
<circle cx="801.8" cy="527.4" r="5.6" fill="#8c6e14" />
<circle cx="827.5" cy="564" r="10.8" fill="#9a9090" />
<circle cx="827.5" cy="564" r="5.6" fill="#8c6e14" />
<polygon points="645.5,491 662,474.5 678.5,491 662,507.5" fill="#1f8a1c" />
<circle cx="662" cy="491" r="11" fill="#8c9c80" />
<circle cx="662" cy="491" r="5.6" fill="#8c6e14" />
<polygon points="616.5,520 633,503.5 649.5,520 633,536.5" fill="#1f8a1c" />
<circle cx="633" cy="520" r="11" fill="#8c9c80" />
<circle cx="633" cy="520" r="5.6" fill="#8c6e14" />
<polygon points="587.5,549 604,532.5 620.5,549 604,565.5" fill="#1f8a1c" />
<circle cx="604" cy="549" r="11" fill="#8c9c80" />
<circle cx="604" cy="549" r="5.6" fill="#8c6e14" />
<polygon points="558.5,578 575,561.5 591.5,578 575,594.5" fill="#1f8a1c" />
<circle cx="575" cy="578" r="11" fill="#8c9c80" />
<circle cx="575" cy="578" r="5.6" fill="#8c6e14" />
<polygon points="674.5,520 691,503.5 707.5,520 691,536.5" fill="#1f8a1c" />
<circle cx="691" cy="520" r="11" fill="#8c9c80" />
<circle cx="691" cy="520" r="5.6" fill="#8c6e14" />
<polygon points="645.5,549 662,532.5 678.5,549 662,565.5" fill="#1f8a1c" />
<circle cx="662" cy="549" r="11" fill="#8c9c80" />
<circle cx="662" cy="549" r="5.6" fill="#8c6e14" />
<polygon points="616.5,578 633,561.5 649.5,578 633,594.5" fill="#1f8a1c" />
<circle cx="633" cy="578" r="11" fill="#8c9c80" />
<circle cx="633" cy="578" r="5.6" fill="#8c6e14" />
<polygon points="587.5,607 604,590.5 620.5,607 604,623.5" fill="#1f8a1c" />
<circle cx="604" cy="607" r="11" fill="#8c9c80" />
<circle cx="604" cy="607" r="5.6" fill="#8c6e14" />
<polygon points="703.5,549 720,532.5 736.5,549 720,565.5" fill="#1f8a1c" />
<circle cx="720" cy="549" r="11" fill="#8c9c80" />
<circle cx="720" cy="549" r="5.6" fill="#8c6e14" />
<polygon points="674.5,578 691,561.5 707.5,578 691,594.5" fill="#1f8a1c" />
<circle cx="691" cy="578" r="11" fill="#8c9c80" />
<circle cx="691" cy="578" r="5.6" fill="#8c6e14" />
<polygon points="645.5,607 662,590.5 678.5,607 662,623.5" fill="#1f8a1c" />
<circle cx="662" cy="607" r="11" fill="#8c9c80" />
<circle cx="662" cy="607" r="5.6" fill="#8c6e14" />
<polygon points="616.5,636 633,619.5 649.5,636 633,652.5" fill="#1f8a1c" />
<circle cx="633" cy="636" r="11" fill="#8c9c80" />
<circle cx="633" cy="636" r="5.6" fill="#8c6e14" />
<polygon points="732.5,578 749,561.5 765.5,578 749,594.5" fill="#1f8a1c" />
<circle cx="749" cy="578" r="11" fill="#8c9c80" />
<circle cx="749" cy="578" r="5.6" fill="#8c6e14" />
<polygon points="703.5,607 720,590.5 736.5,607 720,623.5" fill="#1f8a1c" />
<circle cx="720" cy="607" r="11" fill="#8c9c80" />
<circle cx="720" cy="607" r="5.6" fill="#8c6e14" />
<polygon points="674.5,636 691,619.5 707.5,636 691,652.5" fill="#1f8a1c" />
<circle cx="691" cy="636" r="11" fill="#8c9c80" />
<circle cx="691" cy="636" r="5.6" fill="#8c6e14" />
<polygon points="645.5,665 662,648.5 678.5,665 662,681.5" fill="#1f8a1c" />
<circle cx="662" cy="665" r="11" fill="#8c9c80" />
<circle cx="662" cy="665" r="5.6" fill="#8c6e14" />
</g>
<g opacity="1.0">
<polyline points="25.5,800.6 25.5,228.5 407,228.5 458.5,196.5 506,196.5" fill="none" stroke="#aca800" stroke-width="4.6" stroke-linecap="round" stroke-linejoin="round" />
<polyline points="755,196.5 818,196.5 852,228.5 1234.5,228.5 1234.5,800.6 25.5,800.6" fill="none" stroke="#aca800" stroke-width="4.6" stroke-linecap="round" stroke-linejoin="round" />
</g>
<path d="M36 213 L79 213 L79 259.9 A21.5 21.5 0 0 1 36 259.9 Z" fill="#888888"/>
<path d="M99.7 213 L142.7 213 L142.7 259.9 A21.5 21.5 0 0 1 99.7 259.9 Z" fill="#888888"/>
<path d="M163.3 213 L206.3 213 L206.3 259.9 A21.5 21.5 0 0 1 163.3 259.9 Z" fill="#888888"/>
<path d="M226.9 213 L269.9 213 L269.9 259.9 A21.5 21.5 0 0 1 226.9 259.9 Z" fill="#888888"/>
<path d="M290.6 213 L333.6 213 L333.6 259.9 A21.5 21.5 0 0 1 290.6 259.9 Z" fill="#888888"/>
<path d="M354.2 213 L397.2 213 L397.2 259.9 A21.5 21.5 0 0 1 354.2 259.9 Z" fill="#888888"/>
<path d="M863.4 213 L906.4 213 L906.4 259.9 A21.5 21.5 0 0 1 863.4 259.9 Z" fill="#888888"/>
<path d="M927.1 213 L970.1 213 L970.1 259.9 A21.5 21.5 0 0 1 927.1 259.9 Z" fill="#888888"/>
<path d="M990.8 213 L1033.8 213 L1033.8 259.9 A21.5 21.5 0 0 1 990.8 259.9 Z" fill="#888888"/>
<path d="M1054.4 213 L1097.4 213 L1097.4 259.9 A21.5 21.5 0 0 1 1054.4 259.9 Z" fill="#888888"/>
<path d="M1118 213 L1161 213 L1161 259.9 A21.5 21.5 0 0 1 1118 259.9 Z" fill="#888888"/>
<path d="M1181.7 213 L1224.7 213 L1224.7 259.9 A21.5 21.5 0 0 1 1181.7 259.9 Z" fill="#888888"/>
<path d="M79 815.1 L36 815.1 L36 769 A21.5 21.5 0 0 1 79 769 Z" fill="#888888"/>
<path d="M142.7 815.1 L99.7 815.1 L99.7 769 A21.5 21.5 0 0 1 142.7 769 Z" fill="#888888"/>
<path d="M206.3 815.1 L163.3 815.1 L163.3 769 A21.5 21.5 0 0 1 206.3 769 Z" fill="#888888"/>
<path d="M269.9 815.1 L226.9 815.1 L226.9 769 A21.5 21.5 0 0 1 269.9 769 Z" fill="#888888"/>
<path d="M333.6 815.1 L290.6 815.1 L290.6 769 A21.5 21.5 0 0 1 333.6 769 Z" fill="#888888"/>
<path d="M397.2 815.1 L354.2 815.1 L354.2 769 A21.5 21.5 0 0 1 397.2 769 Z" fill="#888888"/>
<path d="M460.9 815.1 L417.9 815.1 L417.9 769 A21.5 21.5 0 0 1 460.9 769 Z" fill="#888888"/>
<path d="M524.5 815.1 L481.6 815.1 L481.6 769 A21.5 21.5 0 0 1 524.5 769 Z" fill="#888888"/>
<path d="M588.2 815.1 L545.2 815.1 L545.2 769 A21.5 21.5 0 0 1 588.2 769 Z" fill="#888888"/>
<path d="M651.9 815.1 L608.9 815.1 L608.9 769 A21.5 21.5 0 0 1 651.9 769 Z" fill="#888888"/>
<path d="M779.1 815.1 L736.1 815.1 L736.1 769 A21.5 21.5 0 0 1 779.1 769 Z" fill="#888888"/>
<path d="M842.8 815.1 L799.8 815.1 L799.8 769 A21.5 21.5 0 0 1 842.8 769 Z" fill="#888888"/>
<path d="M906.4 815.1 L863.4 815.1 L863.4 769 A21.5 21.5 0 0 1 906.4 769 Z" fill="#888888"/>
<path d="M970.1 815.1 L927.1 815.1 L927.1 769 A21.5 21.5 0 0 1 970.1 769 Z" fill="#888888"/>
<path d="M1033.8 815.1 L990.8 815.1 L990.8 769 A21.5 21.5 0 0 1 1033.8 769 Z" fill="#888888"/>
<path d="M1097.4 815.1 L1054.4 815.1 L1054.4 769 A21.5 21.5 0 0 1 1097.4 769 Z" fill="#888888"/>
<path d="M1161 815.1 L1118 815.1 L1118 769 A21.5 21.5 0 0 1 1161 769 Z" fill="#888888"/>
<path d="M1224.7 815.1 L1181.7 815.1 L1181.7 769 A21.5 21.5 0 0 1 1224.7 769 Z" fill="#888888"/>
<path d="M10.5 345 L10.5 302 L57.5 302 A21.5 21.5 0 0 1 57.5 345 Z" fill="#888888"/>
<path d="M10.5 408.6 L10.5 365.6 L57.5 365.6 A21.5 21.5 0 0 1 57.5 408.6 Z" fill="#888888"/>
<path d="M10.5 472.3 L10.5 429.3 L57.5 429.3 A21.5 21.5 0 0 1 57.5 472.3 Z" fill="#888888"/>
<path d="M10.5 536 L10.5 493 L57.5 493 A21.5 21.5 0 0 1 57.5 536 Z" fill="#888888"/>
<path d="M10.5 599.6 L10.5 556.6 L57.5 556.6 A21.5 21.5 0 0 1 57.5 599.6 Z" fill="#888888"/>
<path d="M10.5 663.2 L10.5 620.2 L57.5 620.2 A21.5 21.5 0 0 1 57.5 663.2 Z" fill="#888888"/>
<path d="M10.5 726.9 L10.5 683.9 L57.5 683.9 A21.5 21.5 0 0 1 57.5 726.9 Z" fill="#888888"/>
<path d="M1249.3 302 L1249.3 345 L1203.2 345 A21.5 21.5 0 0 1 1203.2 302 Z" fill="#888888"/>
<path d="M1249.3 365.6 L1249.3 408.6 L1203.2 408.6 A21.5 21.5 0 0 1 1203.2 365.6 Z" fill="#888888"/>
<path d="M1249.3 429.3 L1249.3 472.3 L1203.2 472.3 A21.5 21.5 0 0 1 1203.2 429.3 Z" fill="#888888"/>
<path d="M1249.3 493 L1249.3 536 L1203.2 536 A21.5 21.5 0 0 1 1203.2 493 Z" fill="#888888"/>
<path d="M1249.3 556.6 L1249.3 599.6 L1203.2 599.6 A21.5 21.5 0 0 1 1203.2 556.6 Z" fill="#888888"/>
<path d="M1249.3 620.2 L1249.3 663.2 L1203.2 663.2 A21.5 21.5 0 0 1 1203.2 620.2 Z" fill="#888888"/>
<path d="M1249.3 683.9 L1249.3 726.9 L1203.2 726.9 A21.5 21.5 0 0 1 1203.2 683.9 Z" fill="#888888"/>
<g opacity="0.3">
<polyline points="25.5,800.6 25.5,228.5 407,228.5 458.5,196.5 506,196.5" fill="none" stroke="#aca800" stroke-width="4.6" stroke-linecap="round" stroke-linejoin="round" />
<polyline points="755,196.5 818,196.5 852,228.5 1234.5,228.5 1234.5,800.6 25.5,800.6" fill="none" stroke="#aca800" stroke-width="4.6" stroke-linecap="round" stroke-linejoin="round" />
</g>
<circle cx="57.5" cy="227.5" r="12.6" fill="#1a8080" />
<circle cx="57.5" cy="259.9" r="12.6" fill="#1a8080" />
<circle cx="121.2" cy="227.5" r="12.6" fill="#1a8080" />
<circle cx="121.2" cy="259.9" r="12.6" fill="#1a8080" />
<circle cx="184.8" cy="227.5" r="12.6" fill="#1a8080" />
<circle cx="184.8" cy="259.9" r="12.6" fill="#1a8080" />
<circle cx="248.4" cy="227.5" r="12.6" fill="#1a8080" />
<circle cx="248.4" cy="259.9" r="12.6" fill="#1a8080" />
<circle cx="312.1" cy="227.5" r="12.6" fill="#1a8080" />
<circle cx="312.1" cy="259.9" r="12.6" fill="#1a8080" />
<circle cx="375.8" cy="227.5" r="12.6" fill="#1a8080" />
<circle cx="375.8" cy="259.9" r="12.6" fill="#1a8080" />
<circle cx="884.9" cy="227.5" r="12.6" fill="#1a8080" />
<circle cx="884.9" cy="259.9" r="12.6" fill="#1a8080" />
<circle cx="948.6" cy="227.5" r="12.6" fill="#1a8080" />
<circle cx="948.6" cy="259.9" r="12.6" fill="#1a8080" />
<circle cx="1012.2" cy="227.5" r="12.6" fill="#1a8080" />
<circle cx="1012.2" cy="259.9" r="12.6" fill="#1a8080" />
<circle cx="1075.9" cy="227.5" r="12.6" fill="#1a8080" />
<circle cx="1075.9" cy="259.9" r="12.6" fill="#1a8080" />
<circle cx="1139.5" cy="227.5" r="12.6" fill="#1a8080" />
<circle cx="1139.5" cy="259.9" r="12.6" fill="#1a8080" />
<circle cx="1203.2" cy="227.5" r="12.6" fill="#1a8080" />
<circle cx="1203.2" cy="259.9" r="12.6" fill="#1a8080" />
<circle cx="57.5" cy="800.6" r="12.6" fill="#1a8080" />
<circle cx="57.5" cy="769" r="12.6" fill="#1a8080" />
<circle cx="121.2" cy="800.6" r="12.6" fill="#1a8080" />
<circle cx="121.2" cy="769" r="12.6" fill="#1a8080" />
<circle cx="184.8" cy="800.6" r="12.6" fill="#1a8080" />
<circle cx="184.8" cy="769" r="12.6" fill="#1a8080" />
<circle cx="248.4" cy="800.6" r="12.6" fill="#1a8080" />
<circle cx="248.4" cy="769" r="12.6" fill="#1a8080" />
<circle cx="312.1" cy="800.6" r="12.6" fill="#1a8080" />
<circle cx="312.1" cy="769" r="12.6" fill="#1a8080" />
<circle cx="375.8" cy="800.6" r="12.6" fill="#1a8080" />
<circle cx="375.8" cy="769" r="12.6" fill="#1a8080" />
<circle cx="439.4" cy="800.6" r="12.6" fill="#1a8080" />
<circle cx="439.4" cy="769" r="12.6" fill="#1a8080" />
<circle cx="503.1" cy="800.6" r="12.6" fill="#1a8080" />
<circle cx="503.1" cy="769" r="12.6" fill="#1a8080" />
<circle cx="566.7" cy="800.6" r="12.6" fill="#1a8080" />
<circle cx="566.7" cy="769" r="12.6" fill="#1a8080" />
<circle cx="630.4" cy="800.6" r="12.6" fill="#1a8080" />
<circle cx="630.4" cy="769" r="12.6" fill="#1a8080" />
<circle cx="757.6" cy="800.6" r="12.6" fill="#1a8080" />
<circle cx="757.6" cy="769" r="12.6" fill="#1a8080" />
<circle cx="821.3" cy="800.6" r="12.6" fill="#1a8080" />
<circle cx="821.3" cy="769" r="12.6" fill="#1a8080" />
<circle cx="884.9" cy="800.6" r="12.6" fill="#1a8080" />
<circle cx="884.9" cy="769" r="12.6" fill="#1a8080" />
<circle cx="948.6" cy="800.6" r="12.6" fill="#1a8080" />
<circle cx="948.6" cy="769" r="12.6" fill="#1a8080" />
<circle cx="1012.2" cy="800.6" r="12.6" fill="#1a8080" />
<circle cx="1012.2" cy="769" r="12.6" fill="#1a8080" />
<circle cx="1075.9" cy="800.6" r="12.6" fill="#1a8080" />
<circle cx="1075.9" cy="769" r="12.6" fill="#1a8080" />
<circle cx="1139.5" cy="800.6" r="12.6" fill="#1a8080" />
<circle cx="1139.5" cy="769" r="12.6" fill="#1a8080" />
<circle cx="1203.2" cy="800.6" r="12.6" fill="#1a8080" />
<circle cx="1203.2" cy="769" r="12.6" fill="#1a8080" />
<circle cx="25" cy="323.5" r="12.6" fill="#1a8080" />
<circle cx="57.5" cy="323.5" r="12.6" fill="#1a8080" />
<circle cx="25" cy="387.1" r="12.6" fill="#1a8080" />
<circle cx="57.5" cy="387.1" r="12.6" fill="#1a8080" />
<circle cx="25" cy="450.8" r="12.6" fill="#1a8080" />
<circle cx="57.5" cy="450.8" r="12.6" fill="#1a8080" />
<circle cx="25" cy="514.5" r="12.6" fill="#1a8080" />
<circle cx="57.5" cy="514.5" r="12.6" fill="#1a8080" />
<circle cx="25" cy="578.1" r="12.6" fill="#1a8080" />
<circle cx="57.5" cy="578.1" r="12.6" fill="#1a8080" />
<circle cx="25" cy="641.8" r="12.6" fill="#1a8080" />
<circle cx="57.5" cy="641.8" r="12.6" fill="#1a8080" />
<circle cx="25" cy="705.4" r="12.6" fill="#1a8080" />
<circle cx="57.5" cy="705.4" r="12.6" fill="#1a8080" />
<circle cx="1234.8" cy="323.5" r="12.6" fill="#1a8080" />
<circle cx="1203.2" cy="323.5" r="12.6" fill="#1a8080" />
<circle cx="1234.8" cy="387.1" r="12.6" fill="#1a8080" />
<circle cx="1203.2" cy="387.1" r="12.6" fill="#1a8080" />
<circle cx="1234.8" cy="450.8" r="12.6" fill="#1a8080" />
<circle cx="1203.2" cy="450.8" r="12.6" fill="#1a8080" />
<circle cx="1234.8" cy="514.5" r="12.6" fill="#1a8080" />
<circle cx="1203.2" cy="514.5" r="12.6" fill="#1a8080" />
<circle cx="1234.8" cy="578.1" r="12.6" fill="#1a8080" />
<circle cx="1203.2" cy="578.1" r="12.6" fill="#1a8080" />
<circle cx="1234.8" cy="641.8" r="12.6" fill="#1a8080" />
<circle cx="1203.2" cy="641.8" r="12.6" fill="#1a8080" />
<circle cx="1234.8" cy="705.4" r="12.6" fill="#1a8080" />
<circle cx="1203.2" cy="705.4" r="12.6" fill="#1a8080" />
<circle cx="286.8" cy="336.2" r="23.3" fill="#888888" />
<circle cx="286.8" cy="336.2" r="15.8" fill="#1a8080" />
<text x="286.8" y="343.8" font-size="21" fill="#f0f0f0" text-anchor="middle" font-weight="normal" >4</text>
<circle cx="367" cy="336.2" r="23.3" fill="#888888" />
<circle cx="367" cy="336.2" r="15.8" fill="#1a8080" />
<text x="367" y="343.8" font-size="21" fill="#f0f0f0" text-anchor="middle" font-weight="normal" >3</text>
<circle cx="447.5" cy="578.5" r="31.5" fill="#888888" />
<circle cx="447.5" cy="578.5" r="23.5" fill="#1a8080" />
<text x="447.5" y="588" font-size="27" fill="#f0f0f0" text-anchor="middle" font-weight="normal" >2</text>
<circle cx="406.5" cy="625.5" r="31.5" fill="#888888" />
<circle cx="406.5" cy="625.5" r="23.5" fill="#1a8080" />
<text x="406.5" y="635" font-size="27" fill="#f0f0f0" text-anchor="middle" font-weight="normal" >2</text>
<circle cx="893.8" cy="336.2" r="23.3" fill="#888888" />
<circle cx="893.8" cy="336.2" r="15.8" fill="#1a8080" />
<text x="893.8" y="343.8" font-size="21" fill="#f0f0f0" text-anchor="middle" font-weight="normal" >4</text>
<circle cx="974" cy="336.2" r="23.3" fill="#888888" />
<circle cx="974" cy="336.2" r="15.8" fill="#1a8080" />
<text x="974" y="343.8" font-size="21" fill="#f0f0f0" text-anchor="middle" font-weight="normal" >3</text>
<circle cx="1053" cy="578.5" r="31.5" fill="#888888" />
<circle cx="1053" cy="578.5" r="23.5" fill="#1a8080" />
<text x="1053" y="588" font-size="27" fill="#f0f0f0" text-anchor="middle" font-weight="normal" >2</text>
<circle cx="1013.5" cy="625.5" r="31.5" fill="#888888" />
<circle cx="1013.5" cy="625.5" r="23.5" fill="#1a8080" />
<text x="1013.5" y="635" font-size="27" fill="#f0f0f0" text-anchor="middle" font-weight="normal" >2</text>
<circle cx="326" cy="499" r="63" fill="#1a8080" />
<circle cx="933.5" cy="499" r="63" fill="#1a8080" />
<rect x="215.5" y="611" width="61" height="80" rx="30.5" fill="#888888" />
<circle cx="246" cy="640" r="23.5" fill="#1a8080" />
<circle cx="246" cy="662" r="23.5" fill="#1a8080" />
<text x="246" y="648.3" font-size="20.5" fill="#f0f0f0" text-anchor="middle" font-weight="normal" >1</text>
<text x="246" y="668.3" font-size="20.5" fill="#f0f0f0" text-anchor="middle" font-weight="normal" >1</text>
<rect x="822.5" y="611" width="61" height="80" rx="30.5" fill="#888888" />
<circle cx="853" cy="640" r="23.5" fill="#1a8080" />
<circle cx="853" cy="662" r="23.5" fill="#1a8080" />
<text x="853" y="648.3" font-size="20.5" fill="#f0f0f0" text-anchor="middle" font-weight="normal" >1</text>
<text x="853" y="668.3" font-size="20.5" fill="#f0f0f0" text-anchor="middle" font-weight="normal" >1</text>
<rect x="458.5" y="192.5" width="27" height="59" rx="13.5" fill="#888888" />
<rect x="461.5" y="195.5" width="21" height="53" rx="10.5" fill="#1a8080" />
<rect x="458.5" y="321" width="27" height="59" rx="13.5" fill="#888888" />
<rect x="461.5" y="324" width="21" height="53" rx="10.5" fill="#1a8080" />
<rect x="773.5" y="192.5" width="27" height="59" rx="13.5" fill="#888888" />
<rect x="776.5" y="195.5" width="21" height="53" rx="10.5" fill="#1a8080" />
<rect x="773.5" y="321" width="27" height="59" rx="13.5" fill="#888888" />
<rect x="776.5" y="324" width="21" height="53" rx="10.5" fill="#1a8080" />
<path d="M509 318 A22 22 0 0 0 531 340.5 M752 318 A22 22 0 0 1 730 340.5" fill="none" stroke="#aca800" stroke-width="1.4"/>
<path d="M506 164 V320 A22.5 22.5 0 0 0 528.5 342.5 H732.5 A22.5 22.5 0 0 0 755 320 V164" fill="none" stroke="#1c1c84" stroke-width="4"/>
<polyline points="482,164 494,164" fill="none" stroke="#1c1c84" stroke-width="4" stroke-linecap="round" stroke-linejoin="round" />
<polyline points="767,164 779,164" fill="none" stroke="#1c1c84" stroke-width="4" stroke-linecap="round" stroke-linejoin="round" />
<polyline points="25.5,230 25.5,164 726,164" fill="none" stroke="#840000" stroke-width="1" stroke-linecap="round" stroke-linejoin="round" shape-rendering="crispEdges"/>
<polyline points="726,164 1234.5,164 1234.5,800.1 726,800.1" fill="none" stroke="#0a6a0a" stroke-width="1.6" stroke-linecap="round" stroke-linejoin="round" />
<polyline points="726,340 726,800.6" fill="none" stroke="#008400" stroke-width="1" stroke-linecap="round" stroke-linejoin="round" shape-rendering="crispEdges"/>
<text x="631" y="148" font-size="11.5" fill="#00008c" text-anchor="middle" font-weight="bold" textLength="264" lengthAdjust="spacingAndGlyphs" >match board outline with comment drawing</text>
<rect x="534.7" y="450.7" width="254.6" height="254.6" fill="none" stroke="#aca800" stroke-width="1.6" transform="rotate(45 662 578)"/>
<rect x="167.5" y="294.6" width="89.9" height="47.7" fill="none" stroke="#c8a028" stroke-width="1.4"/>
<rect x="182.6" y="344" width="60.4" height="42" fill="none" stroke="#c8a028" stroke-width="1.4"/>
<rect x="1070.5" y="311" width="105.5" height="152" fill="none" stroke="#aca800" stroke-width="1.6"/>
<rect x="1070.5" y="565.5" width="105.5" height="152.5" fill="none" stroke="#aca800" stroke-width="1.6"/>
<rect x="741.4" y="387" width="59" height="40.4" fill="none" stroke="#aca800" stroke-width="1.6" transform="rotate(-45 770.9 407.2)"/>
<path d="M765.9 407.2H775.9M770.9 402.2V412.2" stroke="#3c3cd0" stroke-width="1" fill="none"/>
<rect x="783.7" y="402" width="59" height="42" fill="none" stroke="#aca800" stroke-width="1.6" transform="rotate(-45 813.2 423)"/>
<path d="M808.2 423H818.2M813.2 418V428" stroke="#3c3cd0" stroke-width="1" fill="none"/>
<rect x="801.6" y="438.1" width="71.8" height="37.8" fill="none" stroke="#aca800" stroke-width="1.6" transform="rotate(-45 837.5 457)"/>
<path d="M832.5 457H842.5M837.5 452V462" stroke="#3c3cd0" stroke-width="1" fill="none"/>
<rect x="803.8" y="528.9" width="71" height="40" fill="none" stroke="#aca800" stroke-width="1.6" transform="rotate(45 839.3 548.9)"/>
<path d="M834.3 548.9H844.3M839.3 543.9V553.9" stroke="#3c3cd0" stroke-width="1" fill="none"/>
<rect x="682.6" y="407.3" width="72.8" height="37.4" fill="none" stroke="#aca800" stroke-width="1.6" transform="rotate(45 719 426)"/>
<path d="M714 426H724M719 421V431" stroke="#3c3cd0" stroke-width="1" fill="none"/>
<rect x="679.5" y="715" width="73" height="33" fill="none" stroke="#aca800" stroke-width="1.6" transform="rotate(-45 716 731.5)"/>
<path d="M711 731.5H721M716 726.5V736.5" stroke="#3c3cd0" stroke-width="1" fill="none"/>
<path d="M207.5 318.5H217.5M212.5 313.5V323.5" stroke="#3c3cd0" stroke-width="1" fill="none"/>
<path d="M207.5 365.5H217.5M212.5 360.5V370.5" stroke="#3c3cd0" stroke-width="1" fill="none"/>
<path d="M1118 640.5H1128M1123 635.5V645.5" stroke="#3c3cd0" stroke-width="1" fill="none"/>
<path d="M658 578H666M662 574V582" stroke="#2c8c2c" stroke-width="1" fill="none"/>
<path d="M322 499H330M326 495V503" stroke="#2c9c9c" stroke-width="1" fill="none"/>
<path d="M929.5 499H937.5M933.5 495V503" stroke="#2c9c9c" stroke-width="1" fill="none"/>
<path d="M625 342.5H637M631 336.5V348.5" stroke="#1c1c84" stroke-width="1" fill="none"/>
<g id="txt" fill="#f0f0f0">
<text x="57.5" y="221.8" font-size="13" fill="#f0f0f0" text-anchor="middle" font-weight="normal" >1</text>
<text x="57.5" y="241.9" font-size="10.5" fill="#f0f0f0" text-anchor="middle" font-weight="normal" textLength="25" lengthAdjust="spacingAndGlyphs" >PTD1</text>
<text x="54.3" y="261.4" font-size="22.5" fill="#f0f0f0" text-anchor="middle" font-weight="normal" transform="rotate(-90 54.3 261.4)" >1</text>
<text x="73.7" y="279.2" font-size="15.4" fill="#f0f0f0" text-anchor="start" font-weight="normal" transform="rotate(-90 73.7 279.2)" textLength="37.5" lengthAdjust="spacingAndGlyphs" >PTD1</text>
<text x="121.2" y="221.8" font-size="13" fill="#f0f0f0" text-anchor="middle" font-weight="normal" >1</text>
<text x="121.2" y="241.9" font-size="10.5" fill="#f0f0f0" text-anchor="middle" font-weight="normal" textLength="25" lengthAdjust="spacingAndGlyphs" >PTD2</text>
<text x="118" y="261.4" font-size="22.5" fill="#f0f0f0" text-anchor="middle" font-weight="normal" transform="rotate(-90 118 261.4)" >1</text>
<text x="137.3" y="279.2" font-size="15.4" fill="#f0f0f0" text-anchor="start" font-weight="normal" transform="rotate(-90 137.3 279.2)" textLength="37.5" lengthAdjust="spacingAndGlyphs" >PTD2</text>
<text x="184.8" y="221.8" font-size="13" fill="#f0f0f0" text-anchor="middle" font-weight="normal" >1</text>
<text x="184.8" y="241.9" font-size="10.5" fill="#f0f0f0" text-anchor="middle" font-weight="normal" textLength="25" lengthAdjust="spacingAndGlyphs" >PTD3</text>
<text x="181.6" y="261.4" font-size="22.5" fill="#f0f0f0" text-anchor="middle" font-weight="normal" transform="rotate(-90 181.6 261.4)" >1</text>
<text x="201" y="279.2" font-size="15.4" fill="#f0f0f0" text-anchor="start" font-weight="normal" transform="rotate(-90 201 279.2)" textLength="37.5" lengthAdjust="spacingAndGlyphs" >PTD3</text>
<text x="248.4" y="221.8" font-size="13" fill="#f0f0f0" text-anchor="middle" font-weight="normal" >1</text>
<text x="248.4" y="241.9" font-size="10.5" fill="#f0f0f0" text-anchor="middle" font-weight="normal" textLength="25" lengthAdjust="spacingAndGlyphs" >PTD4</text>
<text x="245.2" y="261.4" font-size="22.5" fill="#f0f0f0" text-anchor="middle" font-weight="normal" transform="rotate(-90 245.2 261.4)" >1</text>
<text x="264.6" y="279.2" font-size="15.4" fill="#f0f0f0" text-anchor="start" font-weight="normal" transform="rotate(-90 264.6 279.2)" textLength="37.5" lengthAdjust="spacingAndGlyphs" >PTD4</text>
<text x="312.1" y="221.8" font-size="13" fill="#f0f0f0" text-anchor="middle" font-weight="normal" >1</text>
<text x="312.1" y="241.9" font-size="10.5" fill="#f0f0f0" text-anchor="middle" font-weight="normal" textLength="25" lengthAdjust="spacingAndGlyphs" >PTD5</text>
<text x="308.9" y="261.4" font-size="22.5" fill="#f0f0f0" text-anchor="middle" font-weight="normal" transform="rotate(-90 308.9 261.4)" >1</text>
<text x="328.3" y="279.2" font-size="15.4" fill="#f0f0f0" text-anchor="start" font-weight="normal" transform="rotate(-90 328.3 279.2)" textLength="37.5" lengthAdjust="spacingAndGlyphs" >PTD5</text>
<text x="375.8" y="221.8" font-size="13" fill="#f0f0f0" text-anchor="middle" font-weight="normal" >1</text>
<text x="375.8" y="241.9" font-size="10.5" fill="#f0f0f0" text-anchor="middle" font-weight="normal" textLength="25" lengthAdjust="spacingAndGlyphs" >PTD6</text>
<text x="372.6" y="261.4" font-size="22.5" fill="#f0f0f0" text-anchor="middle" font-weight="normal" transform="rotate(-90 372.6 261.4)" >1</text>
<text x="391.9" y="279.2" font-size="15.4" fill="#f0f0f0" text-anchor="start" font-weight="normal" transform="rotate(-90 391.9 279.2)" textLength="37.5" lengthAdjust="spacingAndGlyphs" >PTD6</text>
<text x="884.9" y="221.8" font-size="13" fill="#f0f0f0" text-anchor="middle" font-weight="normal" >1</text>
<text x="884.9" y="239.4" font-size="3.6" fill="#f0f0f0" text-anchor="middle" font-weight="normal" textLength="27" lengthAdjust="spacingAndGlyphs" >Net-(J1-Pad6)</text>
<text x="881.7" y="261.4" font-size="22.5" fill="#f0f0f0" text-anchor="middle" font-weight="normal" transform="rotate(-90 881.7 261.4)" >1</text>
<text x="901.1" y="279.2" font-size="5.4" fill="#f0f0f0" text-anchor="start" font-weight="normal" transform="rotate(-90 901.1 279.2)" textLength="42" lengthAdjust="spacingAndGlyphs" >Net-(J1-Pad6)</text>
<text x="948.6" y="221.8" font-size="13" fill="#f0f0f0" text-anchor="middle" font-weight="normal" >1</text>
<text x="948.6" y="242.7" font-size="12.7" fill="#f0f0f0" text-anchor="middle" font-weight="normal" textLength="27" lengthAdjust="spacingAndGlyphs" >GND</text>
<text x="945.4" y="261.4" font-size="22.5" fill="#f0f0f0" text-anchor="middle" font-weight="normal" transform="rotate(-90 945.4 261.4)" >1</text>
<text x="964.8" y="279.2" font-size="21.5" fill="#f0f0f0" text-anchor="start" font-weight="normal" transform="rotate(-90 964.8 279.2)" textLength="38" lengthAdjust="spacingAndGlyphs" >GND</text>
<text x="1012.2" y="221.8" font-size="13" fill="#f0f0f0" text-anchor="middle" font-weight="normal" >1</text>
<text x="1012.2" y="240.9" font-size="7.7" fill="#f0f0f0" text-anchor="middle" font-weight="normal" textLength="25" lengthAdjust="spacingAndGlyphs" >USB_D+</text>
<text x="1009" y="261.4" font-size="22.5" fill="#f0f0f0" text-anchor="middle" font-weight="normal" transform="rotate(-90 1009 261.4)" >1</text>
<text x="1028.5" y="279.2" font-size="11.8" fill="#f0f0f0" text-anchor="start" font-weight="normal" transform="rotate(-90 1028.5 279.2)" textLength="38" lengthAdjust="spacingAndGlyphs" >USB_D+</text>
<text x="1075.9" y="221.8" font-size="13" fill="#f0f0f0" text-anchor="middle" font-weight="normal" >1</text>
<text x="1075.9" y="240.9" font-size="7.7" fill="#f0f0f0" text-anchor="middle" font-weight="normal" textLength="25" lengthAdjust="spacingAndGlyphs" >USB_D-</text>
<text x="1072.7" y="261.4" font-size="22.5" fill="#f0f0f0" text-anchor="middle" font-weight="normal" transform="rotate(-90 1072.7 261.4)" >1</text>
<text x="1092.1" y="279.2" font-size="11.8" fill="#f0f0f0" text-anchor="start" font-weight="normal" transform="rotate(-90 1092.1 279.2)" textLength="38" lengthAdjust="spacingAndGlyphs" >USB_D-</text>
<text x="1139.5" y="221.8" font-size="13" fill="#f0f0f0" text-anchor="middle" font-weight="normal" >1</text>
<text x="1139.5" y="240.9" font-size="7.7" fill="#f0f0f0" text-anchor="middle" font-weight="normal" textLength="25" lengthAdjust="spacingAndGlyphs" >PWR_IN</text>
<text x="1136.3" y="261.4" font-size="22.5" fill="#f0f0f0" text-anchor="middle" font-weight="normal" transform="rotate(-90 1136.3 261.4)" >1</text>
<text x="1155.8" y="279.2" font-size="11.8" fill="#f0f0f0" text-anchor="start" font-weight="normal" transform="rotate(-90 1155.8 279.2)" textLength="38" lengthAdjust="spacingAndGlyphs" >PWR_IN</text>
<text x="1203.2" y="221.8" font-size="13" fill="#f0f0f0" text-anchor="middle" font-weight="normal" >1</text>
<text x="1203.2" y="242.7" font-size="12.7" fill="#f0f0f0" text-anchor="middle" font-weight="normal" textLength="27" lengthAdjust="spacingAndGlyphs" >GND</text>
<text x="1200" y="261.4" font-size="22.5" fill="#f0f0f0" text-anchor="middle" font-weight="normal" transform="rotate(-90 1200 261.4)" >1</text>
<text x="1219.4" y="279.2" font-size="21.5" fill="#f0f0f0" text-anchor="start" font-weight="normal" transform="rotate(-90 1219.4 279.2)" textLength="38" lengthAdjust="spacingAndGlyphs" >GND</text>
<text x="57.5" y="794.9" font-size="13" fill="#f0f0f0" text-anchor="middle" font-weight="normal" >1</text>
<text x="57.5" y="815" font-size="10.5" fill="#f0f0f0" text-anchor="middle" font-weight="normal" textLength="25" lengthAdjust="spacingAndGlyphs" >PTC1</text>
<text x="54.3" y="770.5" font-size="22.5" fill="#f0f0f0" text-anchor="middle" font-weight="normal" transform="rotate(-90 54.3 770.5)" >1</text>
<text x="73.7" y="788.3" font-size="15.4" fill="#f0f0f0" text-anchor="start" font-weight="normal" transform="rotate(-90 73.7 788.3)" textLength="37.5" lengthAdjust="spacingAndGlyphs" >PTC1</text>
<text x="121.2" y="794.9" font-size="13" fill="#f0f0f0" text-anchor="middle" font-weight="normal" >1</text>
<text x="121.2" y="815" font-size="10.5" fill="#f0f0f0" text-anchor="middle" font-weight="normal" textLength="25" lengthAdjust="spacingAndGlyphs" >PTC0</text>
<text x="118" y="770.5" font-size="22.5" fill="#f0f0f0" text-anchor="middle" font-weight="normal" transform="rotate(-90 118 770.5)" >1</text>
<text x="137.3" y="788.3" font-size="15.4" fill="#f0f0f0" text-anchor="start" font-weight="normal" transform="rotate(-90 137.3 788.3)" textLength="37.5" lengthAdjust="spacingAndGlyphs" >PTC0</text>
<text x="184.8" y="794.9" font-size="13" fill="#f0f0f0" text-anchor="middle" font-weight="normal" >1</text>
<text x="184.8" y="814.5" font-size="9.2" fill="#f0f0f0" text-anchor="middle" font-weight="normal" textLength="25" lengthAdjust="spacingAndGlyphs" >PTB17</text>
<text x="181.6" y="770.5" font-size="22.5" fill="#f0f0f0" text-anchor="middle" font-weight="normal" transform="rotate(-90 181.6 770.5)" >1</text>
<text x="201" y="788.3" font-size="14.2" fill="#f0f0f0" text-anchor="start" font-weight="normal" transform="rotate(-90 201 788.3)" textLength="38" lengthAdjust="spacingAndGlyphs" >PTB17</text>
<text x="248.4" y="794.9" font-size="13" fill="#f0f0f0" text-anchor="middle" font-weight="normal" >1</text>
<text x="248.4" y="814.5" font-size="9.2" fill="#f0f0f0" text-anchor="middle" font-weight="normal" textLength="25" lengthAdjust="spacingAndGlyphs" >PTB16</text>
<text x="245.2" y="770.5" font-size="22.5" fill="#f0f0f0" text-anchor="middle" font-weight="normal" transform="rotate(-90 245.2 770.5)" >1</text>
<text x="264.6" y="788.3" font-size="14.2" fill="#f0f0f0" text-anchor="start" font-weight="normal" transform="rotate(-90 264.6 788.3)" textLength="38" lengthAdjust="spacingAndGlyphs" >PTB16</text>
<text x="312.1" y="794.9" font-size="13" fill="#f0f0f0" text-anchor="middle" font-weight="normal" >1</text>
<text x="312.1" y="815" font-size="10.5" fill="#f0f0f0" text-anchor="middle" font-weight="normal" textLength="25" lengthAdjust="spacingAndGlyphs" >PTB3</text>
<text x="308.9" y="770.5" font-size="22.5" fill="#f0f0f0" text-anchor="middle" font-weight="normal" transform="rotate(-90 308.9 770.5)" >1</text>
<text x="328.3" y="788.3" font-size="15.4" fill="#f0f0f0" text-anchor="start" font-weight="normal" transform="rotate(-90 328.3 788.3)" textLength="37.5" lengthAdjust="spacingAndGlyphs" >PTB3</text>
<text x="375.8" y="794.9" font-size="13" fill="#f0f0f0" text-anchor="middle" font-weight="normal" >1</text>
<text x="375.8" y="815" font-size="10.5" fill="#f0f0f0" text-anchor="middle" font-weight="normal" textLength="25" lengthAdjust="spacingAndGlyphs" >PTB2</text>
<text x="372.6" y="770.5" font-size="22.5" fill="#f0f0f0" text-anchor="middle" font-weight="normal" transform="rotate(-90 372.6 770.5)" >1</text>
<text x="391.9" y="788.3" font-size="15.4" fill="#f0f0f0" text-anchor="start" font-weight="normal" transform="rotate(-90 391.9 788.3)" textLength="37.5" lengthAdjust="spacingAndGlyphs" >PTB2</text>
<text x="439.4" y="794.9" font-size="13" fill="#f0f0f0" text-anchor="middle" font-weight="normal" >1</text>
<text x="439.4" y="815" font-size="10.5" fill="#f0f0f0" text-anchor="middle" font-weight="normal" textLength="25" lengthAdjust="spacingAndGlyphs" >PTB1</text>
<text x="436.2" y="770.5" font-size="22.5" fill="#f0f0f0" text-anchor="middle" font-weight="normal" transform="rotate(-90 436.2 770.5)" >1</text>
<text x="455.6" y="788.3" font-size="15.4" fill="#f0f0f0" text-anchor="start" font-weight="normal" transform="rotate(-90 455.6 788.3)" textLength="37.5" lengthAdjust="spacingAndGlyphs" >PTB1</text>
<text x="503.1" y="794.9" font-size="13" fill="#f0f0f0" text-anchor="middle" font-weight="normal" >1</text>
<text x="503.1" y="815" font-size="10.5" fill="#f0f0f0" text-anchor="middle" font-weight="normal" textLength="25" lengthAdjust="spacingAndGlyphs" >PTB0</text>
<text x="499.9" y="770.5" font-size="22.5" fill="#f0f0f0" text-anchor="middle" font-weight="normal" transform="rotate(-90 499.9 770.5)" >1</text>
<text x="519.2" y="788.3" font-size="15.4" fill="#f0f0f0" text-anchor="start" font-weight="normal" transform="rotate(-90 519.2 788.3)" textLength="37.5" lengthAdjust="spacingAndGlyphs" >PTB0</text>
<text x="566.7" y="794.9" font-size="13" fill="#f0f0f0" text-anchor="middle" font-weight="normal" >1</text>
<text x="566.7" y="814.5" font-size="9.2" fill="#f0f0f0" text-anchor="middle" font-weight="normal" textLength="25" lengthAdjust="spacingAndGlyphs" >PTA19</text>
<text x="563.5" y="770.5" font-size="22.5" fill="#f0f0f0" text-anchor="middle" font-weight="normal" transform="rotate(-90 563.5 770.5)" >1</text>
<text x="582.9" y="788.3" font-size="14.2" fill="#f0f0f0" text-anchor="start" font-weight="normal" transform="rotate(-90 582.9 788.3)" textLength="38" lengthAdjust="spacingAndGlyphs" >PTA19</text>
<text x="630.4" y="794.9" font-size="13" fill="#f0f0f0" text-anchor="middle" font-weight="normal" >1</text>
<text x="630.4" y="815.8" font-size="12.7" fill="#f0f0f0" text-anchor="middle" font-weight="normal" textLength="27" lengthAdjust="spacingAndGlyphs" >GND</text>
<text x="627.1" y="770.5" font-size="22.5" fill="#f0f0f0" text-anchor="middle" font-weight="normal" transform="rotate(-90 627.1 770.5)" >1</text>
<text x="646.6" y="788.3" font-size="21.5" fill="#f0f0f0" text-anchor="start" font-weight="normal" transform="rotate(-90 646.6 788.3)" textLength="38" lengthAdjust="spacingAndGlyphs" >GND</text>
<text x="757.6" y="794.9" font-size="13" fill="#f0f0f0" text-anchor="middle" font-weight="normal" >1</text>
<text x="757.6" y="814.5" font-size="9.2" fill="#f0f0f0" text-anchor="middle" font-weight="normal" textLength="25" lengthAdjust="spacingAndGlyphs" >PTA18</text>
<text x="754.4" y="770.5" font-size="22.5" fill="#f0f0f0" text-anchor="middle" font-weight="normal" transform="rotate(-90 754.4 770.5)" >1</text>
<text x="773.9" y="788.3" font-size="14.2" fill="#f0f0f0" text-anchor="start" font-weight="normal" transform="rotate(-90 773.9 788.3)" textLength="38" lengthAdjust="spacingAndGlyphs" >PTA18</text>
<text x="821.3" y="794.9" font-size="13" fill="#f0f0f0" text-anchor="middle" font-weight="normal" >1</text>
<text x="821.3" y="815" font-size="10.5" fill="#f0f0f0" text-anchor="middle" font-weight="normal" textLength="25" lengthAdjust="spacingAndGlyphs" >+3V3</text>
<text x="818.1" y="770.5" font-size="22.5" fill="#f0f0f0" text-anchor="middle" font-weight="normal" transform="rotate(-90 818.1 770.5)" >1</text>
<text x="837.5" y="788.3" font-size="15.4" fill="#f0f0f0" text-anchor="start" font-weight="normal" transform="rotate(-90 837.5 788.3)" textLength="37.5" lengthAdjust="spacingAndGlyphs" >+3V3</text>
<text x="884.9" y="794.9" font-size="13" fill="#f0f0f0" text-anchor="middle" font-weight="normal" >1</text>
<text x="884.9" y="814.5" font-size="9.2" fill="#f0f0f0" text-anchor="middle" font-weight="normal" textLength="25" lengthAdjust="spacingAndGlyphs" >NMI_b</text>
<text x="881.7" y="770.5" font-size="22.5" fill="#f0f0f0" text-anchor="middle" font-weight="normal" transform="rotate(-90 881.7 770.5)" >1</text>
<text x="901.1" y="788.3" font-size="14.2" fill="#f0f0f0" text-anchor="start" font-weight="normal" transform="rotate(-90 901.1 788.3)" textLength="38" lengthAdjust="spacingAndGlyphs" >NMI_b</text>
<text x="948.6" y="794.9" font-size="13" fill="#f0f0f0" text-anchor="middle" font-weight="normal" >1</text>
<text x="948.6" y="815" font-size="10.5" fill="#f0f0f0" text-anchor="middle" font-weight="normal" textLength="25" lengthAdjust="spacingAndGlyphs" >PTA2</text>
<text x="945.4" y="770.5" font-size="22.5" fill="#f0f0f0" text-anchor="middle" font-weight="normal" transform="rotate(-90 945.4 770.5)" >1</text>
<text x="964.8" y="788.3" font-size="15.4" fill="#f0f0f0" text-anchor="start" font-weight="normal" transform="rotate(-90 964.8 788.3)" textLength="37.5" lengthAdjust="spacingAndGlyphs" >PTA2</text>
<text x="1012.2" y="794.9" font-size="13" fill="#f0f0f0" text-anchor="middle" font-weight="normal" >1</text>
<text x="1012.2" y="815" font-size="10.5" fill="#f0f0f0" text-anchor="middle" font-weight="normal" textLength="25" lengthAdjust="spacingAndGlyphs" >PTA1</text>
<text x="1009" y="770.5" font-size="22.5" fill="#f0f0f0" text-anchor="middle" font-weight="normal" transform="rotate(-90 1009 770.5)" >1</text>
<text x="1028.5" y="788.3" font-size="15.4" fill="#f0f0f0" text-anchor="start" font-weight="normal" transform="rotate(-90 1028.5 788.3)" textLength="37.5" lengthAdjust="spacingAndGlyphs" >PTA1</text>
<text x="1075.9" y="794.9" font-size="13" fill="#f0f0f0" text-anchor="middle" font-weight="normal" >1</text>
<text x="1075.9" y="814.5" font-size="9.2" fill="#f0f0f0" text-anchor="middle" font-weight="normal" textLength="25" lengthAdjust="spacingAndGlyphs" >PTE25</text>
<text x="1072.7" y="770.5" font-size="22.5" fill="#f0f0f0" text-anchor="middle" font-weight="normal" transform="rotate(-90 1072.7 770.5)" >1</text>
<text x="1092.1" y="788.3" font-size="14.2" fill="#f0f0f0" text-anchor="start" font-weight="normal" transform="rotate(-90 1092.1 788.3)" textLength="38" lengthAdjust="spacingAndGlyphs" >PTE25</text>
<text x="1139.5" y="794.9" font-size="13" fill="#f0f0f0" text-anchor="middle" font-weight="normal" >1</text>
<text x="1139.5" y="814.5" font-size="9.2" fill="#f0f0f0" text-anchor="middle" font-weight="normal" textLength="25" lengthAdjust="spacingAndGlyphs" >PTE24</text>
<text x="1136.3" y="770.5" font-size="22.5" fill="#f0f0f0" text-anchor="middle" font-weight="normal" transform="rotate(-90 1136.3 770.5)" >1</text>
<text x="1155.8" y="788.3" font-size="14.2" fill="#f0f0f0" text-anchor="start" font-weight="normal" transform="rotate(-90 1155.8 788.3)" textLength="38" lengthAdjust="spacingAndGlyphs" >PTE24</text>
<text x="1203.2" y="794.9" font-size="13" fill="#f0f0f0" text-anchor="middle" font-weight="normal" >1</text>
<text x="1203.2" y="814.5" font-size="9.2" fill="#f0f0f0" text-anchor="middle" font-weight="normal" textLength="25" lengthAdjust="spacingAndGlyphs" >PTE30</text>
<text x="1200" y="770.5" font-size="22.5" fill="#f0f0f0" text-anchor="middle" font-weight="normal" transform="rotate(-90 1200 770.5)" >1</text>
<text x="1219.4" y="788.3" font-size="14.2" fill="#f0f0f0" text-anchor="start" font-weight="normal" transform="rotate(-90 1219.4 788.3)" textLength="38" lengthAdjust="spacingAndGlyphs" >PTE30</text>
<text x="25" y="317.5" font-size="13" fill="#f0f0f0" text-anchor="middle" font-weight="normal" >1</text>
<text x="25" y="338" font-size="10.5" fill="#f0f0f0" text-anchor="middle" font-weight="normal" textLength="25" lengthAdjust="spacingAndGlyphs" >PTD0</text>
<text x="57.5" y="320.5" font-size="22.5" fill="#f0f0f0" text-anchor="middle" font-weight="normal" >1</text>
<text x="57.5" y="339.2" font-size="15.4" fill="#f0f0f0" text-anchor="middle" font-weight="normal" textLength="37.5" lengthAdjust="spacingAndGlyphs" >PTD0</text>
<text x="25" y="381.1" font-size="13" fill="#f0f0f0" text-anchor="middle" font-weight="normal" >1</text>
<text x="25" y="401.6" font-size="10.5" fill="#f0f0f0" text-anchor="middle" font-weight="normal" textLength="25" lengthAdjust="spacingAndGlyphs" >PTC7</text>
<text x="57.5" y="384.1" font-size="22.5" fill="#f0f0f0" text-anchor="middle" font-weight="normal" >1</text>
<text x="57.5" y="402.8" font-size="15.4" fill="#f0f0f0" text-anchor="middle" font-weight="normal" textLength="37.5" lengthAdjust="spacingAndGlyphs" >PTC7</text>
<text x="25" y="444.8" font-size="13" fill="#f0f0f0" text-anchor="middle" font-weight="normal" >1</text>
<text x="25" y="465.3" font-size="10.5" fill="#f0f0f0" text-anchor="middle" font-weight="normal" textLength="25" lengthAdjust="spacingAndGlyphs" >PTC6</text>
<text x="57.5" y="447.8" font-size="22.5" fill="#f0f0f0" text-anchor="middle" font-weight="normal" >1</text>
<text x="57.5" y="466.5" font-size="15.4" fill="#f0f0f0" text-anchor="middle" font-weight="normal" textLength="37.5" lengthAdjust="spacingAndGlyphs" >PTC6</text>
<text x="25" y="508.5" font-size="13" fill="#f0f0f0" text-anchor="middle" font-weight="normal" >1</text>
<text x="25" y="529" font-size="10.5" fill="#f0f0f0" text-anchor="middle" font-weight="normal" textLength="25" lengthAdjust="spacingAndGlyphs" >PTC5</text>
<text x="57.5" y="511.5" font-size="22.5" fill="#f0f0f0" text-anchor="middle" font-weight="normal" >1</text>
<text x="57.5" y="530.2" font-size="15.4" fill="#f0f0f0" text-anchor="middle" font-weight="normal" textLength="37.5" lengthAdjust="spacingAndGlyphs" >PTC5</text>
<text x="25" y="572.1" font-size="13" fill="#f0f0f0" text-anchor="middle" font-weight="normal" >1</text>
<text x="25" y="592.6" font-size="10.5" fill="#f0f0f0" text-anchor="middle" font-weight="normal" textLength="25" lengthAdjust="spacingAndGlyphs" >PTC4</text>
<text x="57.5" y="575.1" font-size="22.5" fill="#f0f0f0" text-anchor="middle" font-weight="normal" >1</text>
<text x="57.5" y="593.8" font-size="15.4" fill="#f0f0f0" text-anchor="middle" font-weight="normal" textLength="37.5" lengthAdjust="spacingAndGlyphs" >PTC4</text>
<text x="25" y="635.8" font-size="13" fill="#f0f0f0" text-anchor="middle" font-weight="normal" >1</text>
<text x="25" y="656.2" font-size="10.5" fill="#f0f0f0" text-anchor="middle" font-weight="normal" textLength="25" lengthAdjust="spacingAndGlyphs" >PTC3</text>
<text x="57.5" y="638.8" font-size="22.5" fill="#f0f0f0" text-anchor="middle" font-weight="normal" >1</text>
<text x="57.5" y="657.5" font-size="15.4" fill="#f0f0f0" text-anchor="middle" font-weight="normal" textLength="37.5" lengthAdjust="spacingAndGlyphs" >PTC3</text>
<text x="25" y="699.4" font-size="13" fill="#f0f0f0" text-anchor="middle" font-weight="normal" >1</text>
<text x="25" y="719.9" font-size="10.5" fill="#f0f0f0" text-anchor="middle" font-weight="normal" textLength="25" lengthAdjust="spacingAndGlyphs" >PTC2</text>
<text x="57.5" y="702.4" font-size="22.5" fill="#f0f0f0" text-anchor="middle" font-weight="normal" >1</text>
<text x="57.5" y="721.1" font-size="15.4" fill="#f0f0f0" text-anchor="middle" font-weight="normal" textLength="37.5" lengthAdjust="spacingAndGlyphs" >PTC2</text>
<text x="1233.8" y="317.5" font-size="13" fill="#f0f0f0" text-anchor="middle" font-weight="normal" >1</text>
<text x="1236.8" y="338" font-size="10.5" fill="#f0f0f0" text-anchor="middle" font-weight="normal" textLength="25" lengthAdjust="spacingAndGlyphs" >+3V3</text>
<text x="1203.2" y="320.5" font-size="22.5" fill="#f0f0f0" text-anchor="middle" font-weight="normal" >1</text>
<text x="1203.7" y="339.2" font-size="15.4" fill="#f0f0f0" text-anchor="middle" font-weight="normal" textLength="37.5" lengthAdjust="spacingAndGlyphs" >+3V3</text>
<text x="1233.8" y="381.1" font-size="13" fill="#f0f0f0" text-anchor="middle" font-weight="normal" >1</text>
<text x="1236.8" y="401.6" font-size="12.7" fill="#f0f0f0" text-anchor="middle" font-weight="normal" textLength="27" lengthAdjust="spacingAndGlyphs" >CLK</text>
<text x="1203.2" y="384.1" font-size="22.5" fill="#f0f0f0" text-anchor="middle" font-weight="normal" >1</text>
<text x="1203.7" y="402.8" font-size="21.5" fill="#f0f0f0" text-anchor="middle" font-weight="normal" textLength="38" lengthAdjust="spacingAndGlyphs" >CLK</text>
<text x="1233.8" y="444.8" font-size="13" fill="#f0f0f0" text-anchor="middle" font-weight="normal" >1</text>
<text x="1236.8" y="465.3" font-size="12.7" fill="#f0f0f0" text-anchor="middle" font-weight="normal" textLength="27" lengthAdjust="spacingAndGlyphs" >DIO</text>
<text x="1203.2" y="447.8" font-size="22.5" fill="#f0f0f0" text-anchor="middle" font-weight="normal" >1</text>
<text x="1203.7" y="466.5" font-size="21.5" fill="#f0f0f0" text-anchor="middle" font-weight="normal" textLength="38" lengthAdjust="spacingAndGlyphs" >DIO</text>
<text x="1233.8" y="508.5" font-size="13" fill="#f0f0f0" text-anchor="middle" font-weight="normal" >1</text>
<text x="1236.8" y="529" font-size="6.6" fill="#f0f0f0" text-anchor="middle" font-weight="normal" textLength="27" lengthAdjust="spacingAndGlyphs" >RESET_b</text>
<text x="1203.2" y="511.5" font-size="22.5" fill="#f0f0f0" text-anchor="middle" font-weight="normal" >1</text>
<text x="1203.7" y="530.2" font-size="10.1" fill="#f0f0f0" text-anchor="middle" font-weight="normal" textLength="42" lengthAdjust="spacingAndGlyphs" >RESET_b</text>
<text x="1233.8" y="572.1" font-size="13" fill="#f0f0f0" text-anchor="middle" font-weight="normal" >1</text>
<text x="1236.8" y="592.6" font-size="9.2" fill="#f0f0f0" text-anchor="middle" font-weight="normal" textLength="25" lengthAdjust="spacingAndGlyphs" >PTE20</text>
<text x="1203.2" y="575.1" font-size="22.5" fill="#f0f0f0" text-anchor="middle" font-weight="normal" >1</text>
<text x="1203.7" y="593.8" font-size="14.2" fill="#f0f0f0" text-anchor="middle" font-weight="normal" textLength="38" lengthAdjust="spacingAndGlyphs" >PTE20</text>
<text x="1233.8" y="635.8" font-size="13" fill="#f0f0f0" text-anchor="middle" font-weight="normal" >1</text>
<text x="1236.8" y="656.2" font-size="9.2" fill="#f0f0f0" text-anchor="middle" font-weight="normal" textLength="25" lengthAdjust="spacingAndGlyphs" >PTE21</text>
<text x="1203.2" y="638.8" font-size="22.5" fill="#f0f0f0" text-anchor="middle" font-weight="normal" >1</text>
<text x="1203.7" y="657.5" font-size="14.2" fill="#f0f0f0" text-anchor="middle" font-weight="normal" textLength="38" lengthAdjust="spacingAndGlyphs" >PTE21</text>
<text x="1233.8" y="699.4" font-size="13" fill="#f0f0f0" text-anchor="middle" font-weight="normal" >1</text>
<text x="1236.8" y="719.9" font-size="9.2" fill="#f0f0f0" text-anchor="middle" font-weight="normal" textLength="25" lengthAdjust="spacingAndGlyphs" >PTE29</text>
<text x="1203.2" y="702.4" font-size="22.5" fill="#f0f0f0" text-anchor="middle" font-weight="normal" >1</text>
<text x="1203.7" y="721.1" font-size="14.2" fill="#f0f0f0" text-anchor="middle" font-weight="normal" textLength="38" lengthAdjust="spacingAndGlyphs" >PTE29</text>
</g>
<g id="txt2" fill="#f0f0f0">
<text x="1123" y="330.8" font-size="13.5" fill="#f0f0f0" text-anchor="middle" font-weight="normal" >1</text>
<text x="1123" y="345" font-size="14" fill="#f0f0f0" text-anchor="middle" font-weight="normal" textLength="28" lengthAdjust="spacingAndGlyphs" >GND</text>
<text x="1123" y="439.3" font-size="13.5" fill="#f0f0f0" text-anchor="middle" font-weight="normal" >2</text>
<text x="1123" y="451.6" font-size="8.6" fill="#f0f0f0" text-anchor="middle" font-weight="normal" textLength="33" lengthAdjust="spacingAndGlyphs" >RESET_b</text>
<text x="1123" y="585.2" font-size="13.5" fill="#f0f0f0" text-anchor="middle" font-weight="normal" >1</text>
<text x="1123" y="599.4" font-size="14" fill="#f0f0f0" text-anchor="middle" font-weight="normal" textLength="28" lengthAdjust="spacingAndGlyphs" >GND</text>
<text x="1123" y="693.8" font-size="13.5" fill="#f0f0f0" text-anchor="middle" font-weight="normal" >2</text>
<text x="1123" y="707" font-size="11" fill="#f0f0f0" text-anchor="middle" font-weight="normal" textLength="31" lengthAdjust="spacingAndGlyphs" >NMI_b</text>
<text x="588.7" y="371" font-size="6.5" fill="#f0f0f0" text-anchor="middle" font-weight="bold" transform="rotate(-90 588.7 371)" >1</text>
<text x="593.4" y="383.5" font-size="6.5" fill="#f0f0f0" text-anchor="start" font-weight="bold" transform="rotate(-90 593.4 383.5)" textLength="24" lengthAdjust="spacingAndGlyphs" >PWR_IN</text>
<text x="609.2" y="371" font-size="6.5" fill="#f0f0f0" text-anchor="middle" font-weight="bold" transform="rotate(-90 609.2 371)" >2</text>
<text x="613.9" y="383.5" font-size="6.5" fill="#f0f0f0" text-anchor="start" font-weight="bold" transform="rotate(-90 613.9 383.5)" textLength="24" lengthAdjust="spacingAndGlyphs" >USB_D-</text>
<text x="629.6" y="371" font-size="6.5" fill="#f0f0f0" text-anchor="middle" font-weight="bold" transform="rotate(-90 629.6 371)" >3</text>
<text x="634.3" y="383.5" font-size="6.5" fill="#f0f0f0" text-anchor="start" font-weight="bold" transform="rotate(-90 634.3 383.5)" textLength="24" lengthAdjust="spacingAndGlyphs" >USB_D+</text>
<text x="650.1" y="371" font-size="6.5" fill="#f0f0f0" text-anchor="middle" font-weight="bold" transform="rotate(-90 650.1 371)" >4</text>
<text x="654.8" y="383.5" font-size="3.6" fill="#f0f0f0" text-anchor="start" font-weight="bold" transform="rotate(-90 654.8 383.5)" textLength="24" lengthAdjust="spacingAndGlyphs" >Net-(J1-Pad4)</text>
<text x="670.5" y="371" font-size="6.5" fill="#f0f0f0" text-anchor="middle" font-weight="bold" transform="rotate(-90 670.5 371)" >5</text>
<text x="675.2" y="383.5" font-size="6.5" fill="#f0f0f0" text-anchor="start" font-weight="bold" transform="rotate(-90 675.2 383.5)" textLength="13" lengthAdjust="spacingAndGlyphs" >GND</text>
<text x="469.5" y="222" font-size="15" fill="#f0f0f0" text-anchor="middle" font-weight="normal" transform="rotate(-90 469.5 222)" >6</text>
<text x="480.5" y="244" font-size="5" fill="#f0f0f0" text-anchor="start" font-weight="bold" transform="rotate(-90 480.5 244)" textLength="44" lengthAdjust="spacingAndGlyphs" >Net-(J1-Pad6)</text>
<text x="469.5" y="350.5" font-size="15" fill="#f0f0f0" text-anchor="middle" font-weight="normal" transform="rotate(-90 469.5 350.5)" >6</text>
<text x="480.5" y="372.5" font-size="5" fill="#f0f0f0" text-anchor="start" font-weight="bold" transform="rotate(-90 480.5 372.5)" textLength="44" lengthAdjust="spacingAndGlyphs" >Net-(J1-Pad6)</text>
<text x="784.5" y="222" font-size="15" fill="#f0f0f0" text-anchor="middle" font-weight="normal" transform="rotate(-90 784.5 222)" >6</text>
<text x="795.5" y="244" font-size="5" fill="#f0f0f0" text-anchor="start" font-weight="bold" transform="rotate(-90 795.5 244)" textLength="44" lengthAdjust="spacingAndGlyphs" >Net-(J1-Pad6)</text>
<text x="784.5" y="350.5" font-size="15" fill="#f0f0f0" text-anchor="middle" font-weight="normal" transform="rotate(-90 784.5 350.5)" >6</text>
<text x="795.5" y="372.5" font-size="5" fill="#f0f0f0" text-anchor="start" font-weight="bold" transform="rotate(-90 795.5 372.5)" textLength="44" lengthAdjust="spacingAndGlyphs" >Net-(J1-Pad6)</text>
<text x="664" y="483.5" font-size="10" fill="#f0f0f0" text-anchor="middle" font-weight="normal" font-style="italic" opacity="0.8">49</text>
<text x="662" y="505.2" font-size="10.8" fill="#f0f0f0" text-anchor="middle" font-weight="normal" textLength="26" lengthAdjust="spacingAndGlyphs" opacity="0.88">GND</text>
<text x="635" y="512.5" font-size="10" fill="#f0f0f0" text-anchor="middle" font-weight="normal" font-style="italic" opacity="0.8">49</text>
<text x="633" y="534.2" font-size="10.8" fill="#f0f0f0" text-anchor="middle" font-weight="normal" textLength="26" lengthAdjust="spacingAndGlyphs" opacity="0.88">GND</text>
<text x="606" y="541.5" font-size="10" fill="#f0f0f0" text-anchor="middle" font-weight="normal" font-style="italic" opacity="0.8">49</text>
<text x="604" y="563.2" font-size="10.8" fill="#f0f0f0" text-anchor="middle" font-weight="normal" textLength="26" lengthAdjust="spacingAndGlyphs" opacity="0.88">GND</text>
<text x="577" y="570.5" font-size="10" fill="#f0f0f0" text-anchor="middle" font-weight="normal" font-style="italic" opacity="0.8">49</text>
<text x="575" y="592.2" font-size="10.8" fill="#f0f0f0" text-anchor="middle" font-weight="normal" textLength="26" lengthAdjust="spacingAndGlyphs" opacity="0.88">GND</text>
<text x="693" y="512.5" font-size="10" fill="#f0f0f0" text-anchor="middle" font-weight="normal" font-style="italic" opacity="0.8">49</text>
<text x="691" y="534.2" font-size="10.8" fill="#f0f0f0" text-anchor="middle" font-weight="normal" textLength="26" lengthAdjust="spacingAndGlyphs" opacity="0.88">GND</text>
<text x="664" y="541.5" font-size="10" fill="#f0f0f0" text-anchor="middle" font-weight="normal" font-style="italic" opacity="0.8">49</text>
<text x="662" y="563.2" font-size="10.8" fill="#f0f0f0" text-anchor="middle" font-weight="normal" textLength="26" lengthAdjust="spacingAndGlyphs" opacity="0.88">GND</text>
<text x="635" y="570.5" font-size="10" fill="#f0f0f0" text-anchor="middle" font-weight="normal" font-style="italic" opacity="0.8">49</text>
<text x="633" y="592.2" font-size="10.8" fill="#f0f0f0" text-anchor="middle" font-weight="normal" textLength="26" lengthAdjust="spacingAndGlyphs" opacity="0.88">GND</text>
<text x="606" y="599.5" font-size="10" fill="#f0f0f0" text-anchor="middle" font-weight="normal" font-style="italic" opacity="0.8">49</text>
<text x="604" y="621.2" font-size="10.8" fill="#f0f0f0" text-anchor="middle" font-weight="normal" textLength="26" lengthAdjust="spacingAndGlyphs" opacity="0.88">GND</text>
<text x="722" y="541.5" font-size="10" fill="#f0f0f0" text-anchor="middle" font-weight="normal" font-style="italic" opacity="0.8">49</text>
<text x="720" y="563.2" font-size="10.8" fill="#f0f0f0" text-anchor="middle" font-weight="normal" textLength="26" lengthAdjust="spacingAndGlyphs" opacity="0.88">GND</text>
<text x="693" y="570.5" font-size="10" fill="#f0f0f0" text-anchor="middle" font-weight="normal" font-style="italic" opacity="0.8">49</text>
<text x="691" y="592.2" font-size="10.8" fill="#f0f0f0" text-anchor="middle" font-weight="normal" textLength="26" lengthAdjust="spacingAndGlyphs" opacity="0.88">GND</text>
<text x="664" y="599.5" font-size="10" fill="#f0f0f0" text-anchor="middle" font-weight="normal" font-style="italic" opacity="0.8">49</text>
<text x="662" y="621.2" font-size="10.8" fill="#f0f0f0" text-anchor="middle" font-weight="normal" textLength="26" lengthAdjust="spacingAndGlyphs" opacity="0.88">GND</text>
<text x="635" y="628.5" font-size="10" fill="#f0f0f0" text-anchor="middle" font-weight="normal" font-style="italic" opacity="0.8">49</text>
<text x="633" y="650.2" font-size="10.8" fill="#f0f0f0" text-anchor="middle" font-weight="normal" textLength="26" lengthAdjust="spacingAndGlyphs" opacity="0.88">GND</text>
<text x="751" y="570.5" font-size="10" fill="#f0f0f0" text-anchor="middle" font-weight="normal" font-style="italic" opacity="0.8">49</text>
<text x="749" y="592.2" font-size="10.8" fill="#f0f0f0" text-anchor="middle" font-weight="normal" textLength="26" lengthAdjust="spacingAndGlyphs" opacity="0.88">GND</text>
<text x="722" y="599.5" font-size="10" fill="#f0f0f0" text-anchor="middle" font-weight="normal" font-style="italic" opacity="0.8">49</text>
<text x="720" y="621.2" font-size="10.8" fill="#f0f0f0" text-anchor="middle" font-weight="normal" textLength="26" lengthAdjust="spacingAndGlyphs" opacity="0.88">GND</text>
<text x="693" y="628.5" font-size="10" fill="#f0f0f0" text-anchor="middle" font-weight="normal" font-style="italic" opacity="0.8">49</text>
<text x="691" y="650.2" font-size="10.8" fill="#f0f0f0" text-anchor="middle" font-weight="normal" textLength="26" lengthAdjust="spacingAndGlyphs" opacity="0.88">GND</text>
<text x="664" y="657.5" font-size="10" fill="#f0f0f0" text-anchor="middle" font-weight="normal" font-style="italic" opacity="0.8">49</text>
<text x="662" y="679.2" font-size="10.8" fill="#f0f0f0" text-anchor="middle" font-weight="normal" textLength="26" lengthAdjust="spacingAndGlyphs" opacity="0.88">GND</text>
</g>
<g id="netnames">
<text x="905" y="406.5" font-size="8.5" fill="#5aa05a" text-anchor="middle" font-weight="normal" textLength="30" lengthAdjust="spacingAndGlyphs" >PWR_IN</text>
<text x="661" y="402.5" font-size="7.5" fill="#7f9f6f" text-anchor="middle" font-weight="normal" textLength="27" lengthAdjust="spacingAndGlyphs" >PWR_IN</text>
<text x="1098" y="353" font-size="8" fill="#5aa05a" text-anchor="middle" font-weight="normal" transform="rotate(-52 1098 353)" textLength="28" lengthAdjust="spacingAndGlyphs" >PWR_IN</text>
<text x="1128" y="401" font-size="8" fill="#5aa05a" text-anchor="middle" font-weight="normal" transform="rotate(-50 1128 401)" textLength="20" lengthAdjust="spacingAndGlyphs" >+3V3</text>
<text x="1006" y="534" font-size="8" fill="#5aa05a" text-anchor="middle" font-weight="normal" transform="rotate(-50 1006 534)" textLength="20" lengthAdjust="spacingAndGlyphs" >+3V3</text>
<text x="1076" y="461" font-size="7.5" fill="#b4b48c" text-anchor="middle" font-weight="normal" transform="rotate(-90 1076 461)" textLength="15" lengthAdjust="spacingAndGlyphs" >GND</text>
<text x="476" y="305" font-size="8.5" fill="#8fbf8f" text-anchor="middle" font-weight="normal" transform="rotate(-90 476 305)" textLength="66" lengthAdjust="spacingAndGlyphs" >Net-(J1-Pad6)</text>
<text x="791" y="300" font-size="8.5" fill="#8fbf8f" text-anchor="middle" font-weight="normal" transform="rotate(-90 791 300)" textLength="66" lengthAdjust="spacingAndGlyphs" >Net-(J1-Pad6)</text>
<text x="806" y="263.5" font-size="8.5" fill="#8fbf8f" text-anchor="start" font-weight="normal" textLength="64" lengthAdjust="spacingAndGlyphs" >Net-(J1-Pad6)</text>
<text x="872" y="442" font-size="9" fill="#d8d8d8" text-anchor="start" font-weight="normal" transform="rotate(-52 872 442)" textLength="30" lengthAdjust="spacingAndGlyphs" >PWR_IN</text>
</g>
<g stroke="#f4f4f4" stroke-width="1.1" fill="none"><circle cx="630" cy="514.5" r="15.8"/><path d="M614 499L646.5 530M646.5 499L614 530"/></g>
<polyline points="25.5,14 25.5,227.5" fill="none" stroke="#9b009b" stroke-width="9.5" stroke-linecap="round" stroke-linejoin="round" />
<polyline points="1234.5,14 1234.5,227.5" fill="none" stroke="#9b009b" stroke-width="9.5" stroke-linecap="round" stroke-linejoin="round" />
<polyline points="25.5,101 1234.5,101" fill="none" stroke="#9b009b" stroke-width="9.5" stroke-linecap="round" stroke-linejoin="round" />
<polyline points="63,80 25.5,101 63,122" fill="none" stroke="#9b009b" stroke-width="9.5" stroke-linecap="round" stroke-linejoin="round" />
<polyline points="1198,80 1234.5,101 1198,122" fill="none" stroke="#9b009b" stroke-width="9.5" stroke-linecap="round" stroke-linejoin="round" />
<polyline points="1234.5,164.4 1578,164.4" fill="none" stroke="#9b009b" stroke-width="9.5" stroke-linecap="round" stroke-linejoin="round" />
<polyline points="1234.5,228.3 1451,228.3" fill="none" stroke="#9b009b" stroke-width="9.5" stroke-linecap="round" stroke-linejoin="round" />
<polyline points="1234.5,800.5 1578,800.5" fill="none" stroke="#9b009b" stroke-width="9.5" stroke-linecap="round" stroke-linejoin="round" />
<polyline points="1361.6,228.3 1361.6,800" fill="none" stroke="#9b009b" stroke-width="9.5" stroke-linecap="round" stroke-linejoin="round" />
<polyline points="1341,266 1361.6,228.3 1382,266" fill="none" stroke="#9b009b" stroke-width="9.5" stroke-linecap="round" stroke-linejoin="round" />
<polyline points="1341,762 1361.6,800 1382,762" fill="none" stroke="#9b009b" stroke-width="9.5" stroke-linecap="round" stroke-linejoin="round" />
<polyline points="1489.7,164.4 1489.7,800" fill="none" stroke="#9b009b" stroke-width="9.5" stroke-linecap="round" stroke-linejoin="round" />
<polyline points="1469,202 1489.7,164.4 1510,202" fill="none" stroke="#9b009b" stroke-width="9.5" stroke-linecap="round" stroke-linejoin="round" />
<polyline points="1469,762 1489.7,800 1510,762" fill="none" stroke="#9b009b" stroke-width="9.5" stroke-linecap="round" stroke-linejoin="round" />
<polyline points="860,133.5 860,201" fill="none" stroke="#9b009b" stroke-width="9.5" stroke-linecap="round" stroke-linejoin="round" />
<polyline points="1171.6,133.5 1171.6,201" fill="none" stroke="#9b009b" stroke-width="9.5" stroke-linecap="round" stroke-linejoin="round" />
<polyline points="1264.5,215 1331,215" fill="none" stroke="#9b009b" stroke-width="9.5" stroke-linecap="round" stroke-linejoin="round" />
<polyline points="1264.5,545 1331,545" fill="none" stroke="#9b009b" stroke-width="9.5" stroke-linecap="round" stroke-linejoin="round" />
<text x="423.5" y="82.5" font-size="80" fill="#9b009b" text-anchor="start" font-weight="normal" textLength="248" lengthAdjust="spacingAndGlyphs" stroke="#9b009b" stroke-width="3.2" stroke-linejoin="round">38,000</text>
<text x="712.5" y="82.5" font-size="80" fill="#9b009b" text-anchor="start" font-weight="normal" textLength="122.5" lengthAdjust="spacingAndGlyphs" stroke="#9b009b" stroke-width="3.2" stroke-linejoin="round">mm</text>
<text x="950.6" y="188.5" font-size="80" fill="#9b009b" text-anchor="start" font-weight="normal" textLength="133" lengthAdjust="spacingAndGlyphs" stroke="#9b009b" stroke-width="3.2" stroke-linejoin="round">USB</text>
<text x="1320.5" y="490.3" font-size="80" fill="#9b009b" text-anchor="start" font-weight="normal" transform="rotate(-90 1320.5 490.3)" textLength="220.5" lengthAdjust="spacingAndGlyphs" stroke="#9b009b" stroke-width="3.2" stroke-linejoin="round">DEBUG</text>
<text x="1429.5" y="723.8" font-size="80" fill="#9b009b" text-anchor="start" font-weight="normal" transform="rotate(-90 1429.5 723.8)" textLength="249" lengthAdjust="spacingAndGlyphs" stroke="#9b009b" stroke-width="3.2" stroke-linejoin="round">18,000</text>
<text x="1429.5" y="431.9" font-size="80" fill="#9b009b" text-anchor="start" font-weight="normal" transform="rotate(-90 1429.5 431.9)" textLength="122" lengthAdjust="spacingAndGlyphs" stroke="#9b009b" stroke-width="3.2" stroke-linejoin="round">mm</text>
<text x="1557" y="691.4" font-size="80" fill="#9b009b" text-anchor="start" font-weight="normal" transform="rotate(-90 1557 691.4)" textLength="251" lengthAdjust="spacingAndGlyphs" stroke="#9b009b" stroke-width="3.2" stroke-linejoin="round">20,000</text>
<text x="1557" y="400.9" font-size="80" fill="#9b009b" text-anchor="start" font-weight="normal" transform="rotate(-90 1557 400.9)" textLength="122" lengthAdjust="spacingAndGlyphs" stroke="#9b009b" stroke-width="3.2" stroke-linejoin="round">mm</text>
<polyline points="1586.5,282 1586.5,362" fill="none" stroke="#fff" stroke-width="1" stroke-linecap="round" stroke-linejoin="round" shape-rendering="crispEdges"/>
<polyline points="1547,322.5 1608,322.5" fill="none" stroke="#fff" stroke-width="1" stroke-linecap="round" stroke-linejoin="round" shape-rendering="crispEdges"/>
</svg>
</body></html>
